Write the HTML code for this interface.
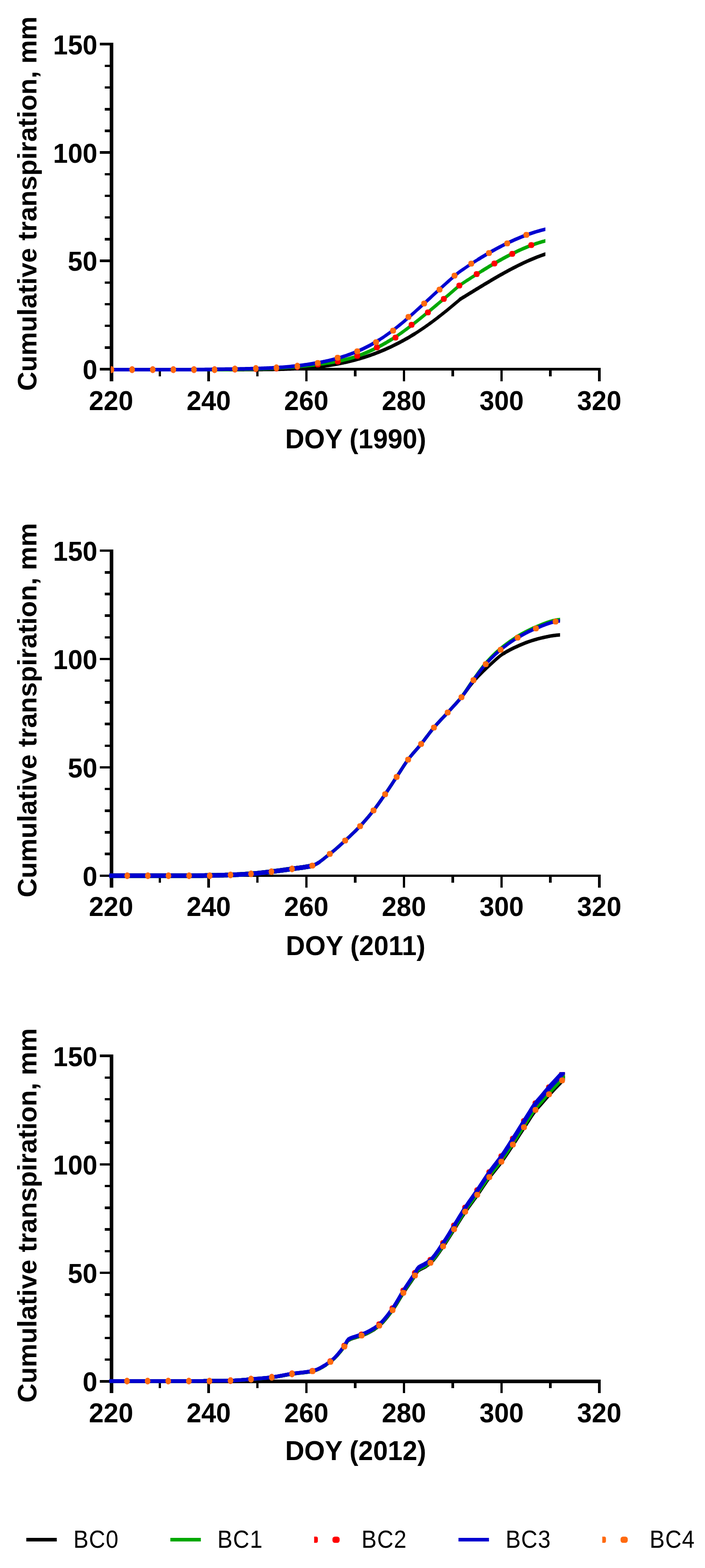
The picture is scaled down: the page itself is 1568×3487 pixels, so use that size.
<!DOCTYPE html>
<html lang="en">
<head>
<meta charset="utf-8">
<title>Cumulative transpiration</title>
<style>
html,body{margin:0;padding:0;background:#fff;}
body{width:1568px;height:3487px;overflow:hidden;}
svg{display:block;}
.b{font-family:"Liberation Sans",Arial,sans-serif;font-weight:bold;fill:#000;}
.n{font-family:"Liberation Sans",Arial,sans-serif;font-weight:normal;fill:#000;}
.ax{fill:#000;shape-rendering:crispEdges;}
.ln{fill:none;stroke-linejoin:round;stroke-linecap:round;}
</style>
</head>
<body>
<svg width="1568" height="3487" viewBox="0 0 1568 3487">
<rect x="0" y="0" width="1568" height="3487" fill="#fff"/>
<g id="chart1">
<rect class="ax" x="244" y="95.45" width="8" height="752.55"/>
<rect class="ax" x="244" y="818.2" width="1091.5" height="5.5"/>
<rect class="ax" x="222" y="818.25" width="24" height="5.5"/>
<rect class="ax" x="233" y="770.06" width="13" height="5.5"/>
<rect class="ax" x="233" y="721.88" width="13" height="5.5"/>
<rect class="ax" x="233" y="673.69" width="13" height="5.5"/>
<rect class="ax" x="233" y="625.5" width="13" height="5.5"/>
<rect class="ax" x="222" y="577.32" width="24" height="5.5"/>
<rect class="ax" x="233" y="529.13" width="13" height="5.5"/>
<rect class="ax" x="233" y="480.94" width="13" height="5.5"/>
<rect class="ax" x="233" y="432.75" width="13" height="5.5"/>
<rect class="ax" x="233" y="384.57" width="13" height="5.5"/>
<rect class="ax" x="222" y="336.38" width="24" height="5.5"/>
<rect class="ax" x="233" y="288.19" width="13" height="5.5"/>
<rect class="ax" x="233" y="240.01" width="13" height="5.5"/>
<rect class="ax" x="233" y="191.82" width="13" height="5.5"/>
<rect class="ax" x="233" y="143.63" width="13" height="5.5"/>
<rect class="ax" x="222" y="95.45" width="24" height="5.5"/>
<rect class="ax" x="352.82" y="820" width="5.5" height="17"/>
<rect class="ax" x="461.4" y="820" width="5.5" height="28"/>
<rect class="ax" x="569.98" y="820" width="5.5" height="17"/>
<rect class="ax" x="678.55" y="820" width="5.5" height="28"/>
<rect class="ax" x="787.12" y="820" width="5.5" height="17"/>
<rect class="ax" x="895.7" y="820" width="5.5" height="28"/>
<rect class="ax" x="1004.27" y="820" width="5.5" height="17"/>
<rect class="ax" x="1112.85" y="820" width="5.5" height="28"/>
<rect class="ax" x="1221.42" y="820" width="5.5" height="17"/>
<rect class="ax" x="1330" y="820" width="5.5" height="28"/>
<clipPath id="cp0"><rect x="246.6" y="0" width="966.4" height="900"/></clipPath>
<g clip-path="url(#cp0)">
<path class="ln" d="M247,822 L250,822 L253,822 L256,822 L259,822 L262,822 L265,822 L268,822 L271,822 L274,822 L277,822 L280,822 L283,822 L286,822 L289,822 L292,822 L295,822 L298,822 L301,822 L304,822 L307,822 L310,822 L313,822 L316,822 L319,822 L322,822 L325,822 L328,822 L331,822 L334,822 L337,822 L340,822 L343,822 L346,822 L349,822 L352,822 L355,822 L358,822 L361,822 L364,822 L367,822 L370,822 L373,822 L376,822 L379,822 L382,822 L385,822 L388,822 L391,822 L394,822 L397,822 L400,822 L403,822 L406,822 L409,822 L412,822 L415,822 L418,822 L421,822 L424,822 L427,822 L430,822 L433,822 L436,822 L439,822 L442,822 L445,822 L448,822 L451,822 L454,822 L457,822 L460,822 L463,822 L466,822 L469,822 L472,822 L475,822 L478,822 L481,822 L484,822 L487,822 L490,822 L493,822 L496,822 L499,822 L502,821.99 L505,821.98 L508,821.97 L511,821.96 L514,821.95 L517,821.93 L520,821.92 L523,821.9 L526,821.89 L529,821.87 L532,821.85 L535,821.83 L538,821.81 L541,821.79 L544,821.77 L547,821.75 L550,821.72 L553,821.7 L556,821.67 L559,821.64 L562,821.63 L565,821.62 L568,821.61 L571,821.6 L574,821.59 L577,821.57 L580,821.56 L583,821.54 L586,821.52 L589,821.5 L592,821.48 L595,821.45 L598,821.42 L601,821.39 L604,821.35 L607,821.31 L610,821.27 L613,821.22 L616,821.16 L619,821.1 L622,821.04 L625,820.96 L628,820.89 L631,820.81 L634,820.72 L637,820.62 L640,820.52 L643,820.41 L646,820.29 L649,820.16 L652,820.03 L655,819.89 L658,819.74 L661,819.58 L664,819.41 L667,819.23 L670,819.04 L673,818.84 L676,818.63 L679,818.41 L682,818.18 L685,817.94 L688,817.69 L691,817.43 L694,817.15 L697,816.86 L700,816.56 L703,816.25" stroke="#000000" stroke-width="8.2"/>
<path class="ln" d="M700,816.56 L703,816.25 L706,815.92 L709,815.58 L712,815.23 L715,814.86 L718,814.48 L721,814.09 L724,813.68 L727,813.25 L730,812.81 L733,812.36 L736,811.89 L739,811.4 L742,810.9 L745,810.38 L748,809.84 L751,809.29 L754,808.72 L757,808.13 L760,807.52 L763,806.9 L766,806.25 L769,805.59 L772,804.91 L775,804.21 L778,803.49 L781,802.75 L784,801.99 L787,801.21 L790,800.41 L793,799.59 L796,798.75 L799,797.89 L802,797.01 L805,796.1 L808,795.18 L811,794.23 L814,793.26 L817,792.27 L820,791.26 L823,790.22 L826,789.17 L829,788.09 L832,786.98 L835,785.86 L838,784.71 L841,783.54 L844,782.34 L847,781.12 L850,779.88 L853,778.61 L856,777.32 L859,776.01 L862,774.67 L865,773.31 L868,771.92 L871,770.5 L874,769.07 L877,767.6 L880,766.11 L883,764.6 L886,763.06 L889,761.49 L892,759.9 L895,758.28 L898,756.64 L901,754.96 L904,753.27 L907,751.54 L910,749.79 L913,748.01 L916,746.2 L919,744.37 L922,742.5" stroke="#000000" stroke-width="7.8"/>
<path class="ln" d="M919,744.37 L922,742.5 L925,740.61 L928,738.7 L931,736.75 L934,734.77 L937,732.77 L940,730.74 L943,728.69 L946,726.6 L949,724.5 L952,722.36 L955,720.21 L958,718.02 L961,715.82 L964,713.59 L967,711.34 L970,709.07 L973,706.78 L976,704.47 L979,702.13 L982,699.78 L985,697.41 L988,695.02 L991,692.61 L994,690.19 L997,687.75 L1000,685.29 L1003,682.81 L1006,680.32 L1009,677.82 L1012,675.3 L1015,672.77 L1018,670.23 L1021,667.67 L1024,665.1 L1027.02,663.26" stroke="#000000" stroke-width="7.2"/>
<path class="ln" d="M1024,665.1 L1027.02,663.26 L1030.03,661.42 L1033.05,659.58 L1036.06,657.73 L1039.08,655.88 L1042.09,654.03 L1045.11,652.18 L1048.12,650.33 L1051.14,648.49 L1054.15,646.64 L1057.17,644.79 L1060.18,642.95 L1063.2,641.1 L1066.22,639.27 L1069.23,637.43 L1072.25,635.6 L1075.26,633.78 L1078.28,631.96 L1081.29,630.14 L1084.31,628.34 L1087.32,626.54 L1090.34,624.75 L1093.35,622.96 L1096.37,621.19 L1099.38,619.42 L1102.4,617.67 L1105.42,615.92 L1108.43,614.19 L1111.45,612.47 L1114.46,610.76 L1117.48,609.06 L1120.49,607.37 L1123.51,605.7 L1126.52,604.05 L1129.54,602.41 L1132.55,600.78 L1135.57,599.17 L1138.58,597.58 L1141.6,596 L1144.62,594.44 L1147.63,592.91 L1150.65,591.38 L1153.66,589.88 L1156.68,588.4 L1159.69,586.94 L1162.71,585.5 L1165.72,584.08 L1168.74,582.68 L1171.75,581.31 L1174.77,579.96 L1177.78,578.63 L1180.8,577.33 L1183.82,576.05 L1186.83,574.8 L1189.85,573.58 L1192.86,572.38 L1195.88,571.2 L1198.89,570.06 L1201.91,568.94 L1204.92,567.86 L1207.94,566.8 L1210.95,565.77 L1213.97,564.77 L1216.98,563.81 L1220,562.87" stroke="#000000" stroke-width="7.8"/>
<path class="ln" d="M247,822 L250,822 L253.01,822 L256.01,822 L259.02,822 L262.02,822 L265.02,822 L268.03,822 L271.03,822 L274.03,822 L277.04,822 L280.04,822 L283.05,822 L286.05,822 L289.05,822 L292.06,822 L295.06,822 L298.07,822 L301.07,822 L304.07,822 L307.08,822 L310.08,822 L313.09,822 L316.09,822 L319.09,822 L322.1,822 L325.1,822 L328.1,822 L331.11,822 L334.11,822 L337.12,822 L340.12,822 L343.12,822 L346.13,822 L349.13,822 L352.14,822 L355.14,822 L358.14,822 L361.15,822 L364.15,822 L367.16,822 L370.16,822 L373.16,822 L376.17,822 L379.17,822 L382.17,822 L385.18,822 L388.18,822 L391.19,822 L394.19,822 L397.19,822 L400.2,822 L403.2,822 L406.21,822 L409.21,822 L412.21,822 L415.22,822 L418.22,822 L421.22,822 L424.23,822 L427.23,822 L430.24,822 L433.24,822 L436.24,822 L439.25,822 L442.25,822 L445.26,822 L448.26,822 L451.26,822 L454.27,822 L457.27,822 L460.28,822 L463.28,822 L466.28,822 L469.29,822 L472.29,821.99 L475.29,821.99 L478.3,821.98 L481.3,821.98 L484.31,821.97 L487.31,821.95 L490.31,821.94 L493.32,821.92 L496.32,821.89 L499.33,821.87 L502.33,821.84 L505.33,821.81 L508.34,821.78 L511.34,821.75 L514.34,821.71 L517.35,821.67 L520.35,821.63 L523.36,821.59 L526.36,821.54 L529.36,821.49 L532.37,821.44 L535.37,821.38 L538.38,821.32 L541.38,821.25 L544.38,821.19 L547.39,821.12 L550.39,821.04 L553.4,820.96 L556.4,820.88 L559.4,820.79 L562.41,820.7 L565.41,820.61 L568.41,820.51 L571.42,820.41 L574.42,820.3 L577.43,820.19 L580.43,820.08 L583.43,819.96 L586.44,819.83 L589.44,819.71 L592.45,819.57 L595.45,819.43 L598.45,819.29 L601.46,819.14 L604.46,818.99 L607.47,818.83 L610.47,818.67 L613.47,818.5 L616.48,818.33 L619.48,818.15 L622.48,817.97 L625.49,817.78 L628.49,817.58 L631.5,817.38 L634.5,817.17 L637.5,816.96 L640.51,816.74 L643.51,816.52 L646.52,816.29 L649.52,816.05 L652.52,815.81 L655.53,815.56 L658.53,815.31 L661.53,815.05 L664.54,814.78 L667.54,814.51 L670.55,814.22 L673.55,813.94 L676.55,813.64 L679.56,813.34 L682.56,813.04 L685.57,812.72 L688.57,812.4 L691.57,812.07 L694.58,811.73 L697.58,811.39 L700.59,811.04" stroke="#00a800" stroke-width="8.2"/>
<path class="ln" d="M697.58,811.39 L700.59,811.04 L703.59,810.68 L706.59,810.32 L709.6,809.94 L712.6,809.56 L715.6,809.17 L718.61,808.77 L721.61,808.36 L724.62,807.93 L727.62,807.49 L730.62,807.04 L733.63,806.57 L736.63,806.08 L739.64,805.58 L742.64,805.05 L745.64,804.51 L748.65,803.95 L751.65,803.36 L754.66,802.75 L757.66,802.12 L760.66,801.46 L763.67,800.78 L766.67,800.06 L769.67,799.32 L772.68,798.55 L775.68,797.76 L778.69,796.92 L781.69,796.06 L784.69,795.16 L787.7,794.23 L790.7,793.27 L793.71,792.26 L796.71,791.22 L799.71,790.15 L802.72,789.03 L805.72,787.88 L808.72,786.69 L811.73,785.47 L814.73,784.22 L817.74,782.92 L820.74,781.6 L823.74,780.24 L826.75,778.85 L829.75,777.43 L832.76,775.97 L835.76,774.49 L838.76,772.97 L841.77,771.43 L844.77,769.85 L847.78,768.25 L850.78,766.61 L853.78,764.94 L856.79,763.24 L859.79,761.5 L862.79,759.73 L865.8,757.93 L868.8,756.1 L871.81,754.23" stroke="#00a800" stroke-width="7.8"/>
<path class="ln" d="M868.8,756.1 L871.81,754.23 L874.81,752.33 L877.81,750.39 L880.82,748.42 L883.82,746.41 L886.83,744.37 L889.83,742.29 L892.83,740.19 L895.84,738.05 L898.84,735.89 L901.84,733.69 L904.85,731.48 L907.85,729.23 L910.86,726.96 L913.86,724.67 L916.86,722.36 L919.87,720.03 L922.87,717.67 L925.88,715.3 L928.88,712.92 L931.88,710.51 L934.89,708.1 L937.89,705.67 L940.9,703.23 L943.9,700.77 L946.9,698.31 L949.91,695.84 L952.91,693.36 L955.91,690.88 L958.92,688.39 L961.92,685.89 L964.93,683.39 L967.93,680.88 L970.93,678.37 L973.94,675.85 L976.94,673.32 L979.95,670.78 L982.95,668.24 L985.95,665.69 L988.96,663.14 L991.96,660.58 L994.97,658.01 L997.97,655.44 L1000.97,652.86 L1003.98,650.27 L1006.98,647.67 L1009.98,645.07 L1012.99,642.46 L1015.99,639.85 L1019,637.23 L1022,634.6 L1025,632.64 L1028,630.69 L1031,628.73 L1034,626.78 L1037,624.83 L1040,622.89 L1043,620.95 L1046,619.01 L1049,617.08 L1052,615.15 L1055,613.23 L1058,611.32 L1061,609.42 L1064,607.52 L1067,605.63 L1070,603.75 L1073,601.88 L1076,600.02" stroke="#00a800" stroke-width="7.2"/>
<path class="ln" d="M1073,601.88 L1076,600.02 L1079,598.18 L1082,596.34 L1085,594.52 L1088,592.7 L1091,590.9 L1094,589.12 L1097,587.35 L1100,585.59 L1103,583.85 L1106,582.13 L1109,580.42 L1112,578.73 L1115,577.05 L1118,575.4 L1121,573.76 L1124,572.14 L1127,570.54 L1130,568.97 L1133,567.41 L1136,565.88 L1139,564.36 L1142,562.87 L1145,561.41 L1148,559.96 L1151,558.55 L1154,557.15 L1157,555.78 L1160,554.44 L1163,553.13 L1166,551.84 L1169,550.58 L1172,549.35 L1175,548.14 L1178,546.97 L1181,545.83 L1184,544.72 L1187,543.63 L1190,542.58 L1193,541.57 L1196,540.58 L1199,539.63 L1202,538.71 L1205,537.83 L1208,536.98 L1211,536.17 L1214,535.39 L1217,534.66 L1220,533.95" stroke="#00a800" stroke-width="7.8"/>
<g fill="#ff0000"><ellipse cx="248" cy="822" rx="6.3" ry="7.5"/><ellipse cx="293.85" cy="822" rx="6.3" ry="7.5"/><ellipse cx="339.7" cy="822" rx="6.3" ry="7.5"/><ellipse cx="385.55" cy="822" rx="6.3" ry="7.5"/><ellipse cx="431.4" cy="822" rx="6.3" ry="7.5"/><ellipse cx="477.25" cy="822" rx="6.3" ry="7.5"/><ellipse cx="522.5" cy="821" rx="6.3" ry="7.5"/><ellipse cx="569" cy="820" rx="6.3" ry="7.5"/><ellipse cx="614.8" cy="818.7" rx="6.3" ry="7.5"/><ellipse cx="661.3" cy="815.5" rx="6.3" ry="7.5"/><rect x="700.4" y="804.1" width="13" height="13" rx="5.2"/><rect x="744.8" y="797.4" width="13" height="13" rx="5.2"/><rect x="788" y="784.8" width="13" height="13" rx="5.2"/><rect x="831.7" y="766.1" width="13" height="13" rx="5.2"/><rect x="873.1" y="744.2" width="13" height="13" rx="5.2"/><rect x="908.9" y="715.8" width="13" height="13" rx="5.2"/><rect x="945.2" y="688.2" width="13" height="13" rx="5.2"/><rect x="980.6" y="658.3" width="13" height="13" rx="5.2"/><rect x="1015.1" y="628.6" width="13" height="13" rx="5.2"/><rect x="1053.7" y="603" width="13" height="13" rx="5.2"/><rect x="1093.1" y="579.6" width="13" height="13" rx="5.2"/><rect x="1132.8" y="558" width="13" height="13" rx="5.2"/><rect x="1175.1" y="538.6" width="13" height="13" rx="5.2"/></g>
<path class="ln" d="M247,822 L250,822 L252.99,822 L255.99,822 L258.98,822 L261.98,822 L264.98,822 L267.97,822 L270.97,822 L273.97,822 L276.96,822 L279.96,822 L282.95,822 L285.95,822 L288.95,822 L291.94,822 L294.94,822 L297.93,822 L300.93,822 L303.93,822 L306.92,822 L309.92,822 L312.91,822 L315.91,822 L318.91,822 L321.9,822 L324.9,822 L327.9,822 L330.89,822 L333.89,822 L336.88,822 L339.88,822 L342.88,822 L345.87,822 L348.87,822 L351.86,822 L354.86,822 L357.86,822 L360.85,822 L363.85,822 L366.84,822 L369.84,822 L372.84,822 L375.83,822 L378.83,822 L381.83,822 L384.82,822 L387.82,822 L390.81,822 L393.81,822 L396.81,822 L399.8,822 L402.8,822 L405.79,822 L408.79,822 L411.79,822 L414.78,822 L417.78,822 L420.78,822 L423.77,821.99 L426.77,821.97 L429.76,821.96 L432.76,821.94 L435.76,821.92 L438.75,821.9 L441.75,821.87 L444.74,821.84 L447.74,821.81 L450.74,821.78 L453.73,821.74 L456.73,821.7 L459.72,821.65 L462.72,821.61 L465.72,821.55 L468.71,821.5 L471.71,821.44 L474.71,821.37 L477.7,821.31 L480.7,821.24 L483.69,821.21 L486.69,821.17 L489.69,821.13 L492.68,821.09 L495.68,821.05 L498.67,821.01 L501.67,820.97 L504.67,820.93 L507.66,820.88 L510.66,820.84 L513.66,820.79 L516.65,820.75 L519.65,820.7 L522.64,820.65 L525.64,820.6 L528.64,820.55 L531.63,820.5 L534.63,820.45 L537.62,820.4 L540.62,820.34 L543.62,820.28 L546.61,820.22 L549.61,820.16 L552.6,820.09 L555.6,820.02 L558.6,819.95 L561.59,819.87 L564.59,819.79 L567.59,819.7 L570.58,819.61 L573.58,819.52 L576.57,819.42 L579.57,819.31 L582.57,819.2 L585.56,819.09 L588.56,818.96 L591.55,818.84 L594.55,818.7 L597.55,818.56 L600.54,818.41 L603.54,818.26 L606.53,818.1 L609.53,817.93 L612.53,817.75 L615.52,817.56 L618.52,817.37 L621.52,817.17 L624.51,816.96 L627.51,816.74 L630.5,816.51 L633.5,816.27 L636.5,816.02 L639.49,815.76 L642.49,815.5 L645.48,815.22 L648.48,814.93 L651.48,814.63 L654.47,814.31 L657.47,813.99 L660.47,813.66 L663.46,813.31 L666.46,812.95 L669.45,812.58 L672.45,812.2 L675.45,811.8 L678.44,811.39 L681.44,810.97 L684.43,810.53 L687.43,810.09 L690.43,809.62 L693.42,809.14 L696.42,808.65 L699.41,808.14 L702.41,807.62" stroke="#0000d0" stroke-width="8.2"/>
<path class="ln" d="M699.41,808.14 L702.41,807.62 L705.41,807.08 L708.4,806.53 L711.4,805.96 L714.4,805.38 L717.39,804.78 L720.39,804.16 L723.38,803.52 L726.38,802.86 L729.38,802.18 L732.37,801.49 L735.37,800.77 L738.36,800.03 L741.36,799.27 L744.36,798.49 L747.35,797.68 L750.35,796.85 L753.34,796 L756.34,795.12 L759.34,794.21 L762.33,793.28 L765.33,792.32 L768.33,791.33 L771.32,790.32 L774.32,789.28 L777.31,788.21 L780.31,787.1 L783.31,785.97 L786.3,784.81 L789.3,783.61 L792.29,782.39 L795.29,781.13 L798.29,779.83 L801.28,778.5 L804.28,777.14 L807.28,775.74 L810.27,774.31 L813.27,772.84 L816.26,771.33 L819.26,769.78 L822.26,768.2 L825.25,766.58 L828.25,764.91 L831.24,763.21 L834.24,761.47 L837.24,759.68 L840.23,757.85 L843.23,755.99" stroke="#0000d0" stroke-width="7.8"/>
<path class="ln" d="M840.23,757.85 L843.23,755.99 L846.22,754.08 L849.22,752.13 L852.22,750.14 L855.21,748.11 L858.21,746.04 L861.21,743.93 L864.2,741.79 L867.2,739.61 L870.19,737.39 L873.19,735.14 L876.19,732.84 L879.18,730.52 L882.18,728.16 L885.17,725.77 L888.17,723.34 L891.17,720.89 L894.16,718.41 L897.16,715.91 L900.16,713.38 L903.15,710.82 L906.15,708.24 L909.14,705.65 L912.14,703.03 L915.14,700.39 L918.13,697.74 L921.13,695.07 L924.12,692.39 L927.12,689.69 L930.12,686.98 L933.11,684.26 L936.11,681.53 L939.1,678.79 L942.1,676.04 L945.1,673.29 L948.09,670.53 L951.09,667.77 L954.09,665 L957.08,662.24 L960.08,659.47 L963.07,656.71 L966.07,653.95 L969.07,651.19 L972.06,648.43 L975.06,645.69 L978.05,642.94 L981.05,640.21 L984.05,637.49 L987.04,634.78 L990.04,632.08 L993.03,629.39 L996.03,626.72 L999.03,624.06 L1002.02,621.42 L1005.02,618.8 L1008.02,616.19 L1011.01,613.61 L1014.01,611.05 L1017,608.51 L1020,606 L1022.99,603.9 L1025.97,601.81 L1028.96,599.74 L1031.94,597.69 L1034.93,595.65 L1037.91,593.62 L1040.9,591.61 L1043.88,589.62 L1046.87,587.64 L1049.85,585.68 L1052.84,583.74 L1055.82,581.81 L1058.81,579.9 L1061.79,578.01 L1064.78,576.13 L1067.76,574.28" stroke="#0000d0" stroke-width="7.2"/>
<path class="ln" d="M1064.78,576.13 L1067.76,574.28 L1070.75,572.44 L1073.73,570.62 L1076.72,568.81 L1079.7,567.03 L1082.69,565.26 L1085.67,563.52 L1088.66,561.79 L1091.64,560.08 L1094.63,558.4 L1097.61,556.73 L1100.6,555.08 L1103.58,553.45 L1106.57,551.85 L1109.55,550.26 L1112.54,548.69 L1115.52,547.15 L1118.51,545.63 L1121.49,544.13 L1124.48,542.65 L1127.46,541.19 L1130.45,539.75 L1133.43,538.34 L1136.42,536.95 L1139.4,535.59 L1142.39,534.24 L1145.37,532.92 L1148.36,531.62 L1151.34,530.35 L1154.33,529.1 L1157.31,527.88 L1160.3,526.68 L1163.28,525.5 L1166.27,524.35 L1169.25,523.22 L1172.24,522.12 L1175.22,521.05 L1178.21,520 L1181.19,518.97 L1184.18,517.98 L1187.16,517 L1190.15,516.06 L1193.13,515.14 L1196.12,514.25 L1199.1,513.39 L1202.09,512.55 L1205.07,511.74 L1208.06,510.96 L1211.04,510.21 L1214.03,509.48 L1217.01,508.79 L1220,508.12" stroke="#0000d0" stroke-width="7.8"/>
<g fill="#ff6a10"><ellipse cx="248" cy="822" rx="6.3" ry="7.5"/><ellipse cx="293.85" cy="822" rx="6.3" ry="7.5"/><ellipse cx="339.7" cy="822" rx="6.3" ry="7.5"/><ellipse cx="385.55" cy="822" rx="6.3" ry="7.5"/><ellipse cx="431.4" cy="822" rx="6.3" ry="7.5"/><ellipse cx="477.25" cy="822" rx="6.3" ry="7.5"/><ellipse cx="522.5" cy="820.5" rx="6.3" ry="7.5"/><ellipse cx="569" cy="819.2" rx="6.3" ry="7.5"/><ellipse cx="614.8" cy="817.7" rx="6.3" ry="7.5"/><ellipse cx="661.3" cy="814.1" rx="6.3" ry="7.5"/><rect x="700.3" y="800.7" width="13" height="13" rx="5.2"/><rect x="744.4" y="789.1" width="13" height="13" rx="5.2"/><rect x="788.1" y="774.7" width="13" height="13" rx="5.2"/><rect x="829.9" y="754.5" width="13" height="13" rx="5.2"/><rect x="867.8" y="728.7" width="13" height="13" rx="5.2"/><rect x="902" y="698.2" width="13" height="13" rx="5.2"/><rect x="936.9" y="668.4" width="13" height="13" rx="5.2"/><rect x="971.1" y="637.6" width="13" height="13" rx="5.2"/><rect x="1004.4" y="606.5" width="13" height="13" rx="5.2"/><rect x="1041.6" y="579.7" width="13" height="13" rx="5.2"/><rect x="1081" y="556.3" width="13" height="13" rx="5.2"/><rect x="1121.6" y="534.7" width="13" height="13" rx="5.2"/><rect x="1164.2" y="515.7" width="13" height="13" rx="5.2"/></g>
</g>
<text class="b" transform="translate(216.5,843.4) scale(1,1.04)" font-size="59" text-anchor="end">0</text>
<text class="b" transform="translate(216.5,602.47) scale(1,1.04)" font-size="59" text-anchor="end">50</text>
<text class="b" transform="translate(216.5,361.53) scale(1,1.04)" font-size="59" text-anchor="end">100</text>
<text class="b" transform="translate(216.5,120.6) scale(1,1.04)" font-size="59" text-anchor="end">150</text>
<text class="b" transform="translate(247,912.2) scale(1,1.04)" font-size="59" text-anchor="middle">220</text>
<text class="b" transform="translate(464.15,912.2) scale(1,1.04)" font-size="59" text-anchor="middle">240</text>
<text class="b" transform="translate(681.3,912.2) scale(1,1.04)" font-size="59" text-anchor="middle">260</text>
<text class="b" transform="translate(898.45,912.2) scale(1,1.04)" font-size="59" text-anchor="middle">280</text>
<text class="b" transform="translate(1115.6,912.2) scale(1,1.04)" font-size="59" text-anchor="middle">300</text>
<text class="b" transform="translate(1332.75,912.2) scale(1,1.04)" font-size="59" text-anchor="middle">320</text>
<text class="b" transform="translate(791,997.4) scale(1,1.03)" font-size="59" text-anchor="middle">DOY (1990)</text>
<text class="b" transform="translate(81.3,453) rotate(-90)" font-size="59" text-anchor="middle">Cumulative transpiration, mm</text>
</g>
<g id="chart2">
<rect class="ax" x="244" y="1221.85" width="8" height="752.55"/>
<rect class="ax" x="244" y="1944.6" width="1091.5" height="5.5"/>
<rect class="ax" x="222" y="1944.65" width="24" height="5.5"/>
<rect class="ax" x="233" y="1896.46" width="13" height="5.5"/>
<rect class="ax" x="233" y="1848.28" width="13" height="5.5"/>
<rect class="ax" x="233" y="1800.09" width="13" height="5.5"/>
<rect class="ax" x="233" y="1751.9" width="13" height="5.5"/>
<rect class="ax" x="222" y="1703.72" width="24" height="5.5"/>
<rect class="ax" x="233" y="1655.53" width="13" height="5.5"/>
<rect class="ax" x="233" y="1607.34" width="13" height="5.5"/>
<rect class="ax" x="233" y="1559.15" width="13" height="5.5"/>
<rect class="ax" x="233" y="1510.97" width="13" height="5.5"/>
<rect class="ax" x="222" y="1462.78" width="24" height="5.5"/>
<rect class="ax" x="233" y="1414.59" width="13" height="5.5"/>
<rect class="ax" x="233" y="1366.41" width="13" height="5.5"/>
<rect class="ax" x="233" y="1318.22" width="13" height="5.5"/>
<rect class="ax" x="233" y="1270.03" width="13" height="5.5"/>
<rect class="ax" x="222" y="1221.85" width="24" height="5.5"/>
<rect class="ax" x="352.82" y="1946.4" width="5.5" height="17"/>
<rect class="ax" x="461.4" y="1946.4" width="5.5" height="28"/>
<rect class="ax" x="569.98" y="1946.4" width="5.5" height="17"/>
<rect class="ax" x="678.55" y="1946.4" width="5.5" height="28"/>
<rect class="ax" x="787.12" y="1946.4" width="5.5" height="17"/>
<rect class="ax" x="895.7" y="1946.4" width="5.5" height="28"/>
<rect class="ax" x="1004.27" y="1946.4" width="5.5" height="17"/>
<rect class="ax" x="1112.85" y="1946.4" width="5.5" height="28"/>
<rect class="ax" x="1221.42" y="1946.4" width="5.5" height="17"/>
<rect class="ax" x="1330" y="1946.4" width="5.5" height="28"/>
<clipPath id="cp1"><rect x="243" y="1126.4" width="1002.6" height="900"/></clipPath>
<g clip-path="url(#cp1)">
<path class="ln" d="M244,1947.4 L247,1947.4 L250,1947.4 L253,1947.4 L256,1947.4 L259,1947.4 L262,1947.4 L265,1947.4 L268,1947.4 L271,1947.4 L274,1947.4 L277,1947.4 L280,1947.4 L283,1947.4 L286,1947.4 L289,1947.4 L292,1947.4 L295,1947.4 L298,1947.4 L301,1947.4 L304,1947.4 L307,1947.4 L310,1947.4 L313,1947.4 L316,1947.4 L319,1947.4 L322,1947.4 L325,1947.4 L328,1947.4 L331,1947.4 L334,1947.4 L337,1947.4 L340,1947.4 L343,1947.4 L346,1947.4 L349,1947.4 L352,1947.4 L355,1947.4 L358,1947.4 L361,1947.4 L364,1947.4 L367,1947.4 L370,1947.4 L373,1947.4 L376,1947.4 L379,1947.4 L382,1947.4 L385,1947.4 L388,1947.4 L391,1947.4 L394,1947.4 L397,1947.4 L400,1947.4 L403,1947.4 L406,1947.4 L409,1947.4 L412,1947.4 L415,1947.4 L418,1947.4 L421,1947.4 L424,1947.4 L427,1947.4 L430,1947.4 L433,1947.39 L436,1947.38 L439,1947.35 L442,1947.32 L445,1947.28 L448,1947.23 L451,1947.18 L454,1947.12 L457,1947.06 L460,1947 L463,1946.94 L466,1946.88 L469,1946.82 L472,1946.76 L475,1946.7 L478,1946.64 L481,1946.58 L484,1946.51 L487,1946.44 L490,1946.37 L493,1946.29 L496,1946.21 L499,1946.13 L502,1946.04 L505,1945.95 L508,1945.86 L511,1945.76 L514,1945.65 L517,1945.54 L520,1945.42 L523,1945.29 L526,1945.15 L529,1945.01 L532,1944.85 L535,1944.69 L538,1944.52 L541,1944.35 L544,1944.16 L547,1943.97 L550,1943.78 L553,1943.57 L556,1943.36 L559,1943.15 L562,1942.92 L565,1942.67 L568,1942.4 L571,1942.11 L574,1941.81 L577,1941.5 L580,1941.17 L583,1940.84 L586,1940.5 L589,1940.15 L592,1939.8 L595,1939.44 L598,1939.08 L601,1938.72 L604,1938.36 L607,1938 L610,1937.63 L613,1937.26 L616,1936.87 L619,1936.48 L622,1936.08 L625,1935.68 L628,1935.27 L631,1934.85 L634,1934.43 L637,1934.01 L640,1933.58 L643,1933.15 L646,1932.71 L649,1932.27 L652,1931.84 L655,1931.44 L658,1931.05 L661,1930.67 L664,1930.3 L667,1929.92 L670,1929.53 L673,1929.12 L676,1928.68 L679,1928.22 L682,1927.71 L685,1927.16 L688,1926.56 L691,1925.89 L694,1925.16 L697,1924.27" stroke="#000000" stroke-width="10.4"/>
<path class="ln" d="M694,1925.16 L697,1924.27 L700,1923.08 L703,1921.61 L706,1919.91 L709,1918" stroke="#000000" stroke-width="7.8"/>
<path class="ln" d="M706,1919.91 L709,1918 L712,1915.92 L715,1913.69 L718,1911.37 L721,1908.98 L724,1906.55 L727,1904.11 L730,1901.71 L733,1899.38 L736,1897.08 L739,1894.69 L742,1892.23 L745,1889.7 L748,1887.11 L751,1884.47 L754,1881.79 L757,1879.08 L760,1876.35 L763,1873.61 L766,1870.86 L769,1868.11 L772,1865.36 L775,1862.59 L778,1859.8 L781,1856.98 L784,1854.13 L787,1851.25 L790,1848.32 L793,1845.34 L796,1842.3 L799,1839.2 L802,1836.03 L805,1832.8 L808,1829.5 L811,1826.13 L814,1822.7 L817,1819.21 L820,1815.65 L823,1812.03 L826,1808.34 L829,1804.58 L832,1800.76 L835,1796.82 L838,1792.76 L841,1788.61 L844,1784.39 L847,1780.1 L850,1775.77 L853,1771.43 L856,1767.07 L859,1762.7 L862,1758.26 L865,1753.78 L868,1749.25 L871,1744.7 L874,1740.14 L877,1735.58 L880,1731.02 L883,1726.49 L886,1721.89 L889,1717.22 L892,1712.52 L895,1707.84 L898,1703.21 L901,1698.7 L904,1694.32 L907,1690.14 L910,1686.18 L913,1682.39 L916,1678.74 L919,1675.19 L922,1671.71 L925,1668.27 L928,1664.82 L931,1661.33 L934,1657.77 L937,1654.1 L940,1650.32 L943,1646.44 L946,1642.5 L949,1638.54 L952,1634.58 L955,1630.64 L958,1626.77 L961,1622.98 L964,1619.31 L967,1615.78 L970,1612.35 L973,1609 L976,1605.73 L979,1602.5 L982,1599.3 L985,1596.11 L988,1592.92 L991,1589.71 L994,1586.46 L997,1583.17 L1000,1579.89 L1003,1576.64 L1006,1573.39 L1009,1570.13 L1012,1566.85 L1015,1563.54 L1018,1560.18 L1021,1556.76 L1024,1553.26 L1027,1549.67 L1030,1545.91 L1033,1541.98 L1036,1537.94 L1039,1533.84 L1042,1529.74 L1045,1525.7 L1048,1521.77 L1051,1518.01 L1054,1514.46 L1057,1511.08 L1060,1507.82 L1063,1504.65 L1066,1501.56 L1069,1498.51 L1072,1495.49 L1075,1492.53 L1078,1489.61 L1081,1486.75 L1084,1483.93 L1087,1481.16 L1090,1478.4 L1093,1475.61 L1096,1472.82 L1099,1470.06 L1102,1467.34 L1105,1464.69 L1108,1462.14 L1111,1459.71 L1114,1457.43 L1117,1455.31 L1120,1453.34 L1123,1451.48" stroke="#000000" stroke-width="7.2"/>
<path class="ln" d="M1120,1453.34 L1123,1451.48 L1126,1449.71 L1129,1448.02 L1132,1446.39 L1135,1444.8 L1138,1443.26 L1141,1441.77 L1144,1440.33 L1147,1438.94 L1150,1437.58 L1153,1436.24 L1156,1434.92 L1159,1433.62 L1162,1432.34 L1165,1431.09 L1168,1429.89 L1171,1428.74 L1174,1427.64 L1177,1426.59 L1180,1425.58 L1183,1424.6 L1186,1423.66 L1189,1422.76 L1192,1421.9 L1195,1421.08 L1198,1420.29 L1201,1419.53 L1204,1418.8 L1207,1418.09 L1210,1417.42 L1213,1416.76 L1216,1416.11 L1219,1415.46 L1222,1414.85 L1225,1414.29 L1228,1413.79 L1231,1413.37 L1234,1413.01 L1237,1412.68 L1240,1412.39 L1243,1412.11 L1246,1411.82 L1249,1411.55 L1252,1411.3" stroke="#000000" stroke-width="7.8"/>
<path class="ln" d="M244,1947.4 L247,1947.4 L250,1947.4 L253,1947.4 L256,1947.4 L259,1947.4 L262,1947.4 L265,1947.4 L268,1947.4 L271,1947.4 L274,1947.4 L277,1947.4 L280,1947.4 L283,1947.4 L286,1947.4 L289,1947.4 L292,1947.4 L295,1947.4 L298,1947.4 L301,1947.4 L304,1947.4 L307,1947.4 L310,1947.4 L313,1947.4 L316,1947.4 L319,1947.4 L322,1947.4 L325,1947.4 L328,1947.4 L331,1947.4 L334,1947.4 L337,1947.4 L340,1947.4 L343,1947.4 L346,1947.4 L349,1947.4 L352,1947.4 L355,1947.4 L358,1947.4 L361,1947.4 L364,1947.4 L367,1947.4 L370,1947.4 L373,1947.4 L376,1947.4 L379,1947.4 L382,1947.4 L385,1947.4 L388,1947.4 L391,1947.4 L394,1947.4 L397,1947.4 L400,1947.4 L403,1947.4 L406,1947.4 L409,1947.4 L412,1947.4 L415,1947.4 L418,1947.4 L421,1947.4 L424,1947.4 L427,1947.4 L430,1947.4 L433,1947.39 L436,1947.38 L439,1947.35 L442,1947.32 L445,1947.28 L448,1947.23 L451,1947.18 L454,1947.12 L457,1947.06 L460,1947 L463,1946.94 L466,1946.88 L469,1946.82 L472,1946.76 L475,1946.7 L478,1946.64 L481,1946.58 L484,1946.51 L487,1946.44 L490,1946.37 L493,1946.29 L496,1946.21 L499,1946.13 L502,1946.04 L505,1945.95 L508,1945.86 L511,1945.76 L514,1945.65 L517,1945.54 L520,1945.42 L523,1945.29 L526,1945.15 L529,1945.01 L532,1944.85 L535,1944.69 L538,1944.52 L541,1944.35 L544,1944.16 L547,1943.97 L550,1943.78 L553,1943.57 L556,1943.36 L559,1943.15 L562,1942.92 L565,1942.67 L568,1942.4 L571,1942.11 L574,1941.81 L577,1941.5 L580,1941.17 L583,1940.84 L586,1940.5 L589,1940.15 L592,1939.8 L595,1939.44 L598,1939.08 L601,1938.72 L604,1938.36 L607,1938 L610,1937.63 L613,1937.26 L616,1936.87 L619,1936.48 L622,1936.08 L625,1935.68 L628,1935.27 L631,1934.85 L634,1934.43 L637,1934.01 L640,1933.58 L643,1933.15 L646,1932.71 L649,1932.27 L652,1931.84 L655,1931.44 L658,1931.05 L661,1930.67 L664,1930.3 L667,1929.92 L670,1929.53 L673,1929.12 L676,1928.68 L679,1928.22 L682,1927.71 L685,1927.16 L688,1926.56 L691,1925.89 L694,1925.16 L697,1924.27" stroke="#00a800" stroke-width="10.4"/>
<path class="ln" d="M694,1925.16 L697,1924.27 L700,1923.08 L703,1921.61 L706,1919.91 L709,1918" stroke="#00a800" stroke-width="7.8"/>
<path class="ln" d="M706,1919.91 L709,1918 L712,1915.92 L715,1913.69 L718,1911.37 L721,1908.98 L724,1906.55 L727,1904.11 L730,1901.71 L733,1899.38 L736,1897.08 L739,1894.69 L742,1892.23 L745,1889.7 L748,1887.11 L751,1884.47 L754,1881.79 L757,1879.08 L760,1876.35 L763,1873.61 L766,1870.86 L769,1868.11 L772,1865.36 L775,1862.59 L778,1859.8 L781,1856.98 L784,1854.13 L787,1851.25 L790,1848.32 L793,1845.34 L796,1842.3 L799,1839.2 L802,1836.03 L805,1832.8 L808,1829.5 L811,1826.13 L814,1822.7 L817,1819.21 L820,1815.65 L823,1812.03 L826,1808.34 L829,1804.58 L832,1800.76 L835,1796.82 L838,1792.76 L841,1788.61 L844,1784.39 L847,1780.1 L850,1775.77 L853,1771.43 L856,1767.07 L859,1762.7 L862,1758.26 L865,1753.78 L868,1749.25 L871,1744.7 L874,1740.14 L877,1735.58 L880,1731.02 L883,1726.49 L886,1721.89 L889,1717.22 L892,1712.52 L895,1707.84 L898,1703.21 L901,1698.7 L904,1694.32 L907,1690.14 L910,1686.18 L913,1682.39 L916,1678.74 L919,1675.19 L922,1671.71 L925,1668.27 L928,1664.82 L931,1661.33 L934,1657.77 L937,1654.1 L940,1650.32 L943,1646.44 L946,1642.5 L949,1638.54 L952,1634.58 L955,1630.64 L958,1626.77 L961,1622.98 L964,1619.31 L967,1615.78 L970,1612.35 L973,1609 L976,1605.73 L979,1602.5 L982,1599.3 L985,1596.11 L988,1592.92 L991,1589.71 L994,1586.46 L997,1583.17 L1000,1579.92 L1003,1576.64 L1006,1573.38 L1009,1570.1 L1012,1566.8 L1015,1563.44 L1018,1560.01 L1021,1556.49 L1024,1552.84 L1027,1549.05 L1030,1545.05 L1033,1540.82 L1036,1536.46 L1039,1531.98 L1042,1527.45 L1045,1522.92 L1048,1518.45 L1051,1514.09 L1054,1509.87 L1057,1505.69 L1060,1501.48 L1063,1497.3 L1066,1493.16 L1069,1489.1 L1072,1485.13 L1075,1481.3 L1078,1477.61 L1081,1474.12 L1084,1470.75 L1087,1467.45 L1090,1464.24 L1093,1461.1 L1096,1458.05 L1099,1455.06 L1102,1452.22 L1105,1449.49 L1108,1446.83 L1111,1444.25 L1114,1441.74 L1117,1439.29 L1120,1436.9 L1123,1434.55 L1126,1432.26 L1129,1430.03 L1132,1427.85 L1135,1425.72 L1138,1423.65 L1141,1421.62 L1144,1419.66 L1147,1417.75 L1150,1415.91" stroke="#00a800" stroke-width="7.2"/>
<path class="ln" d="M1147,1417.75 L1150,1415.91 L1153,1414.12 L1156,1412.36 L1159,1410.64 L1162,1408.96 L1165,1407.32 L1168,1405.71 L1171,1404.14 L1174,1402.61 L1177,1401.12 L1180,1399.67 L1183,1398.28 L1186,1396.92 L1189,1395.6 L1192,1394.33 L1195,1393.08 L1198,1391.83 L1201,1390.58 L1204,1389.35 L1207,1388.13 L1210,1386.95 L1213,1385.81 L1216,1384.7 L1219,1383.65 L1222,1382.66 L1225,1381.73 L1228,1380.88 L1231,1380.11 L1234,1379.43 L1237,1378.86 L1240,1378.4 L1243,1378 L1246,1377.56 L1249,1377.12 L1252,1376.68" stroke="#00a800" stroke-width="7.8"/>
<path class="ln" d="M244,1947.4 L247,1947.4 L250,1947.4 L253,1947.4 L256,1947.4 L259,1947.4 L262,1947.4 L265,1947.4 L268,1947.4 L271,1947.4 L274,1947.4 L277,1947.4 L280,1947.4 L283,1947.4 L286,1947.4 L289,1947.4 L292,1947.4 L295,1947.4 L298,1947.4 L301,1947.4 L304,1947.4 L307,1947.4 L310,1947.4 L313,1947.4 L316,1947.4 L319,1947.4 L322,1947.4 L325,1947.4 L328,1947.4 L331,1947.4 L334,1947.4 L337,1947.4 L340,1947.4 L343,1947.4 L346,1947.4 L349,1947.4 L352,1947.4 L355,1947.4 L358,1947.4 L361,1947.4 L364,1947.4 L367,1947.4 L370,1947.4 L373,1947.4 L376,1947.4 L379,1947.4 L382,1947.4 L385,1947.4 L388,1947.4 L391,1947.4 L394,1947.4 L397,1947.4 L400,1947.4 L403,1947.4 L406,1947.4 L409,1947.4 L412,1947.4 L415,1947.4 L418,1947.4 L421,1947.4 L424,1947.4 L427,1947.4 L430,1947.4 L433,1947.39 L436,1947.38 L439,1947.35 L442,1947.32 L445,1947.28 L448,1947.23 L451,1947.18 L454,1947.12 L457,1947.06 L460,1947 L463,1946.94 L466,1946.88 L469,1946.82 L472,1946.76 L475,1946.7 L478,1946.64 L481,1946.58 L484,1946.51 L487,1946.44 L490,1946.37 L493,1946.29 L496,1946.21 L499,1946.13 L502,1946.04 L505,1945.95 L508,1945.86 L511,1945.76 L514,1945.65 L517,1945.54 L520,1945.42 L523,1945.29 L526,1945.15 L529,1945.01 L532,1944.85 L535,1944.69 L538,1944.52 L541,1944.35 L544,1944.16 L547,1943.97 L550,1943.78 L553,1943.57 L556,1943.36 L559,1943.15 L562,1942.92 L565,1942.67 L568,1942.4 L571,1942.11 L574,1941.81 L577,1941.5 L580,1941.17 L583,1940.84 L586,1940.5 L589,1940.15 L592,1939.8 L595,1939.44 L598,1939.08 L601,1938.72 L604,1938.36 L607,1938 L610,1937.63 L613,1937.26 L616,1936.87 L619,1936.48 L622,1936.08 L625,1935.68 L628,1935.27 L631,1934.85 L634,1934.43 L637,1934.01 L640,1933.58 L643,1933.15 L646,1932.71 L649,1932.27 L652,1931.84 L655,1931.44 L658,1931.05 L661,1930.67 L664,1930.3 L667,1929.92 L670,1929.53 L673,1929.12 L676,1928.68 L679,1928.22 L682,1927.71 L685,1927.16 L688,1926.56 L691,1925.89 L694,1925.16 L697,1924.27" stroke="#0000d0" stroke-width="10.4"/>
<path class="ln" d="M694,1925.16 L697,1924.27 L700,1923.08 L703,1921.61 L706,1919.91 L709,1918" stroke="#0000d0" stroke-width="7.8"/>
<path class="ln" d="M706,1919.91 L709,1918 L712,1915.92 L715,1913.69 L718,1911.37 L721,1908.98 L724,1906.55 L727,1904.11 L730,1901.71 L733,1899.38 L736,1897.08 L739,1894.69 L742,1892.23 L745,1889.7 L748,1887.11 L751,1884.47 L754,1881.79 L757,1879.08 L760,1876.35 L763,1873.61 L766,1870.86 L769,1868.11 L772,1865.36 L775,1862.59 L778,1859.8 L781,1856.98 L784,1854.13 L787,1851.25 L790,1848.32 L793,1845.34 L796,1842.3 L799,1839.2 L802,1836.03 L805,1832.8 L808,1829.5 L811,1826.13 L814,1822.7 L817,1819.21 L820,1815.65 L823,1812.03 L826,1808.34 L829,1804.58 L832,1800.76 L835,1796.82 L838,1792.76 L841,1788.61 L844,1784.39 L847,1780.1 L850,1775.77 L853,1771.43 L856,1767.07 L859,1762.7 L862,1758.26 L865,1753.78 L868,1749.25 L871,1744.7 L874,1740.14 L877,1735.58 L880,1731.02 L883,1726.49 L886,1721.89 L889,1717.22 L892,1712.52 L895,1707.84 L898,1703.21 L901,1698.7 L904,1694.32 L907,1690.14 L910,1686.18 L913,1682.39 L916,1678.74 L919,1675.19 L922,1671.71 L925,1668.27 L928,1664.82 L931,1661.33 L934,1657.77 L937,1654.1 L940,1650.32 L943,1646.44 L946,1642.5 L949,1638.54 L952,1634.58 L955,1630.64 L958,1626.77 L961,1622.98 L964,1619.31 L967,1615.78 L970,1612.35 L973,1609 L976,1605.73 L979,1602.5 L982,1599.3 L985,1596.11 L988,1592.92 L991,1589.71 L994,1586.46 L997,1583.17 L1000,1579.92 L1003,1576.7 L1006,1573.5 L1009,1570.29 L1012,1567.05 L1015,1563.76 L1018,1560.39 L1021,1556.94 L1024,1553.36 L1027,1549.64 L1030,1545.71 L1033,1541.56 L1036,1537.27 L1039,1532.87 L1042,1528.42 L1045,1523.97 L1048,1519.58 L1051,1515.3 L1054,1511.17 L1057,1507.07 L1060,1502.95 L1063,1498.85 L1066,1494.8 L1069,1490.83 L1072,1486.95 L1075,1483.21 L1078,1479.62 L1081,1476.22 L1084,1472.94 L1087,1469.74 L1090,1466.62 L1093,1463.57 L1096,1460.62 L1099,1457.73 L1102,1454.93 L1105,1452.21 L1108,1449.57 L1111,1447 L1114,1444.51 L1117,1442.07 L1120,1439.69 L1123,1437.36 L1126,1435.08 L1129,1432.86 L1132,1430.69 L1135,1428.57 L1138,1426.51 L1141,1424.5 L1144,1422.55 L1147,1420.65 L1150,1418.82" stroke="#0000d0" stroke-width="7.2"/>
<path class="ln" d="M1147,1420.65 L1150,1418.82 L1153,1417.04 L1156,1415.29 L1159,1413.58 L1162,1411.91 L1165,1410.27 L1168,1408.67 L1171,1407.11 L1174,1405.59 L1177,1404.11 L1180,1402.67 L1183,1401.28 L1186,1399.93 L1189,1398.62 L1192,1397.36 L1195,1396.11 L1198,1394.87 L1201,1393.63 L1204,1392.4 L1207,1391.19 L1210,1390.02 L1213,1388.88 L1216,1387.78 L1219,1386.73 L1222,1385.75 L1225,1384.82 L1228,1383.98 L1231,1383.21 L1234,1382.54 L1237,1381.97 L1240,1381.51 L1243,1381.11 L1246,1380.68 L1249,1380.24 L1252,1379.8" stroke="#0000d0" stroke-width="7.8"/>
<g fill="#ff6a10"><ellipse cx="283" cy="1947.4" rx="6.3" ry="7.5"/><ellipse cx="328.85" cy="1947.4" rx="6.3" ry="7.5"/><ellipse cx="374.7" cy="1947.4" rx="6.3" ry="7.5"/><ellipse cx="420.55" cy="1947.4" rx="6.3" ry="7.5"/><ellipse cx="466.4" cy="1947.4" rx="6.3" ry="7.5"/><ellipse cx="512.7" cy="1945.7" rx="6.3" ry="7.5"/><ellipse cx="558.3" cy="1943.2" rx="6.3" ry="7.5"/><ellipse cx="603.7" cy="1938.4" rx="6.3" ry="7.5"/><ellipse cx="649.5" cy="1932.2" rx="6.3" ry="7.5"/><rect x="688.1" y="1918.5" width="13" height="13" rx="5.2"/><rect x="727" y="1892.5" width="13" height="13" rx="5.2"/><rect x="761.2" y="1862.8" width="13" height="13" rx="5.2"/><rect x="794.4" y="1830.7" width="13" height="13" rx="5.2"/><rect x="824.3" y="1795.8" width="13" height="13" rx="5.2"/><rect x="850.1" y="1759.7" width="13" height="13" rx="5.2"/><rect x="875.7" y="1721.2" width="13" height="13" rx="5.2"/><rect x="901.2" y="1682.7" width="13" height="13" rx="5.2"/><rect x="930.1" y="1648.1" width="13" height="13" rx="5.2"/><rect x="958.6" y="1611.5" width="13" height="13" rx="5.2"/><rect x="989.2" y="1578.1" width="13" height="13" rx="5.2"/><rect x="1019.9" y="1543.9" width="13" height="13" rx="5.2"/><rect x="1046.6" y="1505.9" width="13" height="13" rx="5.2"/><rect x="1073.8" y="1470.5" width="13" height="13" rx="5.2"/><rect x="1106.9" y="1438.5" width="13" height="13" rx="5.2"/><rect x="1144.7" y="1411.6" width="13" height="13" rx="5.2"/><rect x="1185.4" y="1390.9" width="13" height="13" rx="5.2"/><rect x="1229.2" y="1375.7" width="13" height="13" rx="5.2"/></g>
</g>
<text class="b" transform="translate(216.5,1969.8) scale(1,1.04)" font-size="59" text-anchor="end">0</text>
<text class="b" transform="translate(216.5,1728.87) scale(1,1.04)" font-size="59" text-anchor="end">50</text>
<text class="b" transform="translate(216.5,1487.93) scale(1,1.04)" font-size="59" text-anchor="end">100</text>
<text class="b" transform="translate(216.5,1247) scale(1,1.04)" font-size="59" text-anchor="end">150</text>
<text class="b" transform="translate(247,2036.8) scale(1,1.04)" font-size="59" text-anchor="middle">220</text>
<text class="b" transform="translate(464.15,2036.8) scale(1,1.04)" font-size="59" text-anchor="middle">240</text>
<text class="b" transform="translate(681.3,2036.8) scale(1,1.04)" font-size="59" text-anchor="middle">260</text>
<text class="b" transform="translate(898.45,2036.8) scale(1,1.04)" font-size="59" text-anchor="middle">280</text>
<text class="b" transform="translate(1115.6,2036.8) scale(1,1.04)" font-size="59" text-anchor="middle">300</text>
<text class="b" transform="translate(1332.75,2036.8) scale(1,1.04)" font-size="59" text-anchor="middle">320</text>
<text class="b" transform="translate(791,2123.8) scale(1,1.03)" font-size="59" text-anchor="middle">DOY (2011)</text>
<text class="b" transform="translate(81.3,1579.4) rotate(-90)" font-size="59" text-anchor="middle">Cumulative transpiration, mm</text>
</g>
<g id="chart3">
<rect class="ax" x="244" y="2345.45" width="8" height="752.55"/>
<rect class="ax" x="244" y="3068" width="1091.5" height="7.7"/>
<rect class="ax" x="222" y="3069.15" width="24" height="5.5"/>
<rect class="ax" x="233" y="3020.9" width="13" height="5.5"/>
<rect class="ax" x="233" y="2972.66" width="13" height="5.5"/>
<rect class="ax" x="233" y="2924.41" width="13" height="5.5"/>
<rect class="ax" x="233" y="2876.16" width="13" height="5.5"/>
<rect class="ax" x="222" y="2827.91" width="24" height="5.5"/>
<rect class="ax" x="233" y="2779.67" width="13" height="5.5"/>
<rect class="ax" x="233" y="2731.42" width="13" height="5.5"/>
<rect class="ax" x="233" y="2683.17" width="13" height="5.5"/>
<rect class="ax" x="233" y="2634.93" width="13" height="5.5"/>
<rect class="ax" x="222" y="2586.68" width="24" height="5.5"/>
<rect class="ax" x="233" y="2538.43" width="13" height="5.5"/>
<rect class="ax" x="233" y="2490.19" width="13" height="5.5"/>
<rect class="ax" x="233" y="2441.94" width="13" height="5.5"/>
<rect class="ax" x="233" y="2393.69" width="13" height="5.5"/>
<rect class="ax" x="222" y="2345.45" width="24" height="5.5"/>
<rect class="ax" x="352.82" y="3069.8" width="5.5" height="17"/>
<rect class="ax" x="461.4" y="3069.8" width="5.5" height="28"/>
<rect class="ax" x="569.98" y="3069.8" width="5.5" height="17"/>
<rect class="ax" x="678.55" y="3069.8" width="5.5" height="28"/>
<rect class="ax" x="787.12" y="3069.8" width="5.5" height="17"/>
<rect class="ax" x="895.7" y="3069.8" width="5.5" height="28"/>
<rect class="ax" x="1004.27" y="3069.8" width="5.5" height="17"/>
<rect class="ax" x="1112.85" y="3069.8" width="5.5" height="28"/>
<rect class="ax" x="1221.42" y="3069.8" width="5.5" height="17"/>
<rect class="ax" x="1330" y="3069.8" width="5.5" height="28"/>
<clipPath id="cp2"><rect x="243" y="2384.3" width="1013.5" height="765.5"/></clipPath>
<g clip-path="url(#cp2)">
<path class="ln" d="M244,3071.3 L247,3071.3 L250.01,3071.3 L253.01,3071.3 L256.01,3071.3 L259.01,3071.3 L262.02,3071.3 L265.02,3071.3 L268.02,3071.3 L271.03,3071.3 L274.03,3071.3 L277.03,3071.3 L280.04,3071.3 L283.04,3071.3 L286.04,3071.3 L289.04,3071.3 L292.05,3071.3 L295.05,3071.3 L298.05,3071.3 L301.06,3071.3 L304.06,3071.3 L307.06,3071.3 L310.06,3071.3 L313.07,3071.3 L316.07,3071.3 L319.07,3071.3 L322.08,3071.3 L325.08,3071.3 L328.08,3071.3 L331.09,3071.3 L334.09,3071.3 L337.09,3071.3 L340.09,3071.3 L343.1,3071.3 L346.1,3071.3 L349.1,3071.3 L352.11,3071.3 L355.11,3071.3 L358.11,3071.3 L361.12,3071.3 L364.12,3071.3 L367.12,3071.3 L370.12,3071.3 L373.13,3071.3 L376.13,3071.3 L379.13,3071.3 L382.14,3071.3 L385.14,3071.3 L388.14,3071.3 L391.14,3071.3 L394.15,3071.3 L397.15,3071.3 L400.15,3071.3 L403.16,3071.3 L406.16,3071.3 L409.16,3071.3 L412.17,3071.3 L415.17,3071.3 L418.17,3071.3 L421.17,3071.3 L424.18,3071.3 L427.18,3071.3 L430.18,3071.3 L433.19,3071.29 L436.19,3071.27 L439.19,3071.24 L442.19,3071.2 L445.2,3071.15 L448.2,3071.09 L451.2,3071.03 L454.21,3070.97 L457.21,3070.91 L460.21,3070.85 L463.22,3070.8 L466.22,3070.75 L469.22,3070.71 L472.22,3070.68 L475.23,3070.65 L478.23,3070.62 L481.23,3070.6 L484.24,3070.57 L487.24,3070.55 L490.24,3070.53 L493.24,3070.51 L496.25,3070.49 L499.25,3070.46 L502.25,3070.44 L505.26,3070.4 L508.26,3070.37 L511.26,3070.32 L514.27,3070.27 L517.27,3070.18 L520.27,3070.06 L523.27,3069.91 L526.28,3069.73 L529.28,3069.53 L532.28,3069.31 L535.29,3069.08 L538.29,3068.83 L541.29,3068.57 L544.29,3068.31 L547.3,3068.04 L550.3,3067.78 L553.3,3067.52 L556.31,3067.27 L559.31,3067.03 L562.31,3066.8 L565.32,3066.56 L568.32,3066.33 L571.32,3066.1 L574.32,3065.86 L577.33,3065.63 L580.33,3065.38 L583.33,3065.12 L586.34,3064.86 L589.34,3064.59 L592.34,3064.3 L595.35,3064 L598.35,3063.69 L601.35,3063.37 L604.35,3063.03 L607.36,3062.65 L610.36,3062.24 L613.36,3061.78 L616.37,3061.29 L619.37,3060.76 L622.37,3060.22 L625.37,3059.66 L628.38,3059.11 L631.38,3058.53 L634.38,3057.96 L637.39,3057.4 L640.39,3056.86 L643.39,3056.33 L646.4,3055.84 L649.4,3055.37 L652.4,3054.93 L655.4,3054.54 L658.41,3054.18 L661.41,3053.84 L664.41,3053.51 L667.42,3053.19 L670.42,3052.87 L673.42,3052.55 L676.42,3052.21 L679.43,3051.84 L682.43,3051.45 L685.43,3051.01 L688.44,3050.52 L691.44,3049.98 L694.44,3049.38 L697.45,3048.68" stroke="#000000" stroke-width="8.2"/>
<path class="ln" d="M694.44,3049.38 L697.45,3048.68 L700.45,3047.79 L703.45,3046.73 L706.45,3045.53 L709.46,3044.17 L712.46,3042.68 L715.46,3041.07 L718.47,3039.34 L721.47,3037.52 L724.47,3035.62" stroke="#000000" stroke-width="7.8"/>
<path class="ln" d="M721.47,3037.52 L724.47,3035.62 L727.47,3033.62 L730.48,3031.57 L733.48,3029.46 L736.48,3027.28 L739.49,3024.85 L742.49,3022.16 L745.49,3019.24 L748.5,3016.09 L751.5,3012.76 L754.5,3009.27 L757.5,3005.61 L760.51,3001.82 L763.51,2997.91 L766.51,2993.85 L769.52,2988.47 L772.52,2983.22 L775.52,2980.43 L778.53,2978.77" stroke="#000000" stroke-width="7.2"/>
<path class="ln" d="M775.52,2980.43 L778.53,2978.77 L781.53,2977.45 L784.53,2976.39 L787.53,2975.47 L790.54,2974.56 L793.54,2973.58 L796.54,2972.69 L799.55,2971.85 L802.55,2970.96 L805.55,2969.91 L808.55,2968.75 L811.56,2967.49 L814.56,2966.14 L817.56,2964.71 L820.57,2963.2 L823.57,2961.62 L826.57,2959.95 L829.58,2958.2 L832.58,2956.33" stroke="#000000" stroke-width="7.8"/>
<path class="ln" d="M829.58,2958.2 L832.58,2956.33 L835.58,2954.34 L838.58,2952.21 L841.59,2949.92 L844.59,2947.44 L847.59,2944.7 L850.6,2941.7 L853.6,2938.47 L856.6,2935.02 L859.6,2931.41 L862.61,2927.64 L865.61,2923.75 L868.61,2919.78 L871.62,2915.75 L874.62,2911.62 L877.62,2907.18 L880.63,2902.48 L883.63,2897.58 L886.63,2892.58 L889.63,2887.55 L892.64,2882.59 L895.64,2877.76 L898.64,2873.13 L901.65,2868.65 L904.65,2864.24 L907.65,2859.89 L910.65,2855.55 L913.66,2851.2 L916.66,2846.78 L919.66,2842.29 L922.67,2837.67 L925.67,2832.35 L928.67,2827.43 L931.68,2824.78 L934.68,2822.89" stroke="#000000" stroke-width="7.2"/>
<path class="ln" d="M931.68,2824.78 L934.68,2822.89 L937.68,2821.39 L940.68,2820.01 L943.69,2818.51 L946.69,2816.68" stroke="#000000" stroke-width="7.8"/>
<path class="ln" d="M943.69,2818.51 L946.69,2816.68 L949.69,2814.76 L952.7,2812.72 L955.7,2810.42 L958.7,2807.79 L961.71,2804.74 L964.71,2801.31 L967.71,2797.57 L970.71,2793.58 L973.72,2789.41 L976.72,2785.11 L979.72,2780.74 L982.73,2776.38 L985.73,2772.07 L988.73,2767.71 L991.73,2763.19 L994.74,2758.55 L997.74,2753.82 L1000.74,2749.05 L1003.75,2744.25 L1006.75,2739.48 L1009.75,2734.74 L1012.76,2730.03 L1015.76,2725.25 L1018.76,2720.44 L1021.76,2715.65 L1024.77,2710.87 L1027.77,2706.15 L1030.77,2701.5 L1033.78,2696.95 L1036.78,2692.54 L1039.78,2688.22 L1042.78,2684 L1045.79,2679.84 L1048.79,2675.72 L1051.79,2671.6 L1054.8,2667.47 L1057.8,2663.32 L1060.8,2659.09 L1063.81,2654.78 L1066.81,2650.4 L1069.81,2645.97 L1072.81,2641.52 L1075.82,2637.07 L1078.82,2632.64 L1081.82,2628.27 L1084.83,2623.98 L1087.83,2619.81 L1090.83,2615.76 L1093.83,2611.84 L1096.84,2608.03 L1099.84,2604.27 L1102.84,2600.53 L1105.85,2596.77 L1108.85,2592.96 L1111.85,2589.04 L1114.86,2585 L1117.86,2580.81 L1120.86,2576.53 L1123.86,2572.15 L1126.87,2567.7 L1129.87,2563.21 L1132.87,2558.67 L1135.88,2554.1 L1138.88,2549.54 L1141.88,2544.98 L1144.88,2540.38 L1147.89,2535.73 L1150.89,2531.05 L1153.89,2526.36 L1156.9,2521.65 L1159.9,2516.96 L1162.9,2512.27 L1165.91,2507.6 L1168.91,2502.96 L1171.91,2498.32 L1174.91,2493.69 L1177.92,2489.08 L1180.92,2484.42 L1183.92,2479.82 L1186.93,2475.49 L1189.93,2471.46 L1192.93,2467.74 L1195.94,2464.24 L1198.94,2460.86 L1201.94,2457.52 L1204.94,2454.12 L1207.95,2450.65 L1210.95,2447.15 L1213.95,2443.65 L1216.96,2440.19 L1219.96,2436.79 L1222.96,2433.46 L1225.96,2430.2 L1228.97,2426.98 L1231.97,2423.8 L1234.97,2420.64 L1237.98,2417.5 L1240.98,2414.37 L1243.98,2411.23 L1246.99,2408.09 L1249.99,2404.93 L1252.99,2401.76 L1255.99,2398.58 L1259,2395.41 L1262,2392.24" stroke="#000000" stroke-width="7.2"/>
<path class="ln" d="M244,3071.3 L247,3071.3 L250.01,3071.3 L253.01,3071.3 L256.01,3071.3 L259.01,3071.3 L262.02,3071.3 L265.02,3071.3 L268.02,3071.3 L271.03,3071.3 L274.03,3071.3 L277.03,3071.3 L280.04,3071.3 L283.04,3071.3 L286.04,3071.3 L289.04,3071.3 L292.05,3071.3 L295.05,3071.3 L298.05,3071.3 L301.06,3071.3 L304.06,3071.3 L307.06,3071.3 L310.06,3071.3 L313.07,3071.3 L316.07,3071.3 L319.07,3071.3 L322.08,3071.3 L325.08,3071.3 L328.08,3071.3 L331.09,3071.3 L334.09,3071.3 L337.09,3071.3 L340.09,3071.3 L343.1,3071.3 L346.1,3071.3 L349.1,3071.3 L352.11,3071.3 L355.11,3071.3 L358.11,3071.3 L361.12,3071.3 L364.12,3071.3 L367.12,3071.3 L370.12,3071.3 L373.13,3071.3 L376.13,3071.3 L379.13,3071.3 L382.14,3071.3 L385.14,3071.3 L388.14,3071.3 L391.14,3071.3 L394.15,3071.3 L397.15,3071.3 L400.15,3071.3 L403.16,3071.3 L406.16,3071.3 L409.16,3071.3 L412.17,3071.3 L415.17,3071.3 L418.17,3071.3 L421.17,3071.3 L424.18,3071.3 L427.18,3071.3 L430.18,3071.3 L433.19,3071.29 L436.19,3071.27 L439.19,3071.24 L442.19,3071.2 L445.2,3071.15 L448.2,3071.09 L451.2,3071.03 L454.21,3070.97 L457.21,3070.91 L460.21,3070.85 L463.22,3070.8 L466.22,3070.75 L469.22,3070.71 L472.22,3070.68 L475.23,3070.65 L478.23,3070.62 L481.23,3070.6 L484.24,3070.57 L487.24,3070.55 L490.24,3070.53 L493.24,3070.51 L496.25,3070.49 L499.25,3070.46 L502.25,3070.44 L505.26,3070.4 L508.26,3070.37 L511.26,3070.32 L514.27,3070.27 L517.27,3070.18 L520.27,3070.06 L523.27,3069.91 L526.28,3069.73 L529.28,3069.52 L532.28,3069.3 L535.29,3069.06 L538.29,3068.81 L541.29,3068.55 L544.29,3068.29 L547.3,3068.02 L550.3,3067.76 L553.3,3067.5 L556.31,3067.25 L559.31,3067 L562.31,3066.77 L565.32,3066.53 L568.32,3066.3 L571.32,3066.07 L574.32,3065.83 L577.33,3065.59 L580.33,3065.34 L583.33,3065.08 L586.34,3064.82 L589.34,3064.55 L592.34,3064.25 L595.35,3063.95 L598.35,3063.64 L601.35,3063.32 L604.35,3062.98 L607.36,3062.6 L610.36,3062.18 L613.36,3061.71 L616.37,3061.22 L619.37,3060.69 L622.37,3060.15 L625.37,3059.59 L628.38,3059.02 L631.38,3058.44 L634.38,3057.87 L637.39,3057.31 L640.39,3056.76 L643.39,3056.23 L646.4,3055.73 L649.4,3055.26 L652.4,3054.82 L655.4,3054.42 L658.41,3054.06 L661.41,3053.72 L664.41,3053.39 L667.42,3053.07 L670.42,3052.75 L673.42,3052.43 L676.42,3052.08 L679.43,3051.7 L682.43,3051.31 L685.43,3050.87 L688.44,3050.38 L691.44,3049.84 L694.44,3049.23 L697.45,3048.52" stroke="#00a800" stroke-width="8.2"/>
<path class="ln" d="M694.44,3049.23 L697.45,3048.52 L700.45,3047.63 L703.45,3046.56 L706.45,3045.35 L709.46,3043.98 L712.46,3042.49 L715.46,3040.86 L718.47,3039.12 L721.47,3037.29" stroke="#00a800" stroke-width="7.8"/>
<path class="ln" d="M718.47,3039.12 L721.47,3037.29 L724.47,3035.37 L727.47,3033.36 L730.48,3031.29 L733.48,3029.17 L736.48,3026.98 L739.49,3024.53 L742.49,3021.81 L745.49,3018.87 L748.5,3015.71 L751.5,3012.36 L754.5,3008.83 L757.5,3005.15 L760.51,3001.33 L763.51,2997.4 L766.51,2993.31 L769.52,2987.89 L772.52,2982.61 L775.52,2979.8 L778.53,2978.12" stroke="#00a800" stroke-width="7.2"/>
<path class="ln" d="M775.52,2979.8 L778.53,2978.12 L781.53,2976.8 L784.53,2975.73 L787.53,2974.8 L790.54,2973.88 L793.54,2972.9 L796.54,2972 L799.55,2971.15 L802.55,2970.26 L805.55,2969.21 L808.55,2968.03 L811.56,2966.77 L814.56,2965.41 L817.56,2963.96 L820.57,2962.45 L823.57,2960.85 L826.57,2959.18 L829.58,2957.41 L832.58,2955.53" stroke="#00a800" stroke-width="7.8"/>
<path class="ln" d="M829.58,2957.41 L832.58,2955.53 L835.58,2953.52 L838.58,2951.37 L841.59,2949.08 L844.59,2946.58 L847.59,2943.81 L850.6,2940.79 L853.6,2937.54 L856.6,2934.07 L859.6,2930.43 L862.61,2926.64 L865.61,2922.72 L868.61,2918.72 L871.62,2914.66 L874.62,2910.5 L877.62,2906.03 L880.63,2901.29 L883.63,2896.37 L886.63,2891.32 L889.63,2886.26 L892.64,2881.26 L895.64,2876.41 L898.64,2871.75 L901.65,2867.23 L904.65,2862.79 L907.65,2858.41 L910.65,2854.04 L913.66,2849.66 L916.66,2845.21 L919.66,2840.68 L922.67,2836.03 L925.67,2830.67 L928.67,2825.72 L931.68,2823.05 L934.68,2821.15" stroke="#00a800" stroke-width="7.2"/>
<path class="ln" d="M931.68,2823.05 L934.68,2821.15 L937.68,2819.64 L940.68,2818.25 L943.69,2816.74 L946.69,2814.9" stroke="#00a800" stroke-width="7.8"/>
<path class="ln" d="M943.69,2816.74 L946.69,2814.9 L949.69,2812.96 L952.7,2810.9 L955.7,2808.6 L958.7,2805.94 L961.71,2802.87 L964.71,2799.42 L967.71,2795.65 L970.71,2791.64 L973.72,2787.43 L976.72,2783.1 L979.72,2778.71 L982.73,2774.31 L985.73,2769.97 L988.73,2765.58 L991.73,2761.03 L994.74,2756.36 L997.74,2751.6 L1000.74,2746.79 L1003.75,2741.96 L1006.75,2737.15 L1009.75,2732.38 L1012.76,2727.63 L1015.76,2722.82 L1018.76,2717.98 L1021.76,2713.16 L1024.77,2708.35 L1027.77,2703.59 L1030.77,2698.91 L1033.78,2694.33 L1036.78,2689.88 L1039.78,2685.54 L1042.78,2681.29 L1045.79,2677.09 L1048.79,2672.94 L1051.79,2668.8 L1054.8,2664.64 L1057.8,2660.46 L1060.8,2656.2 L1063.81,2651.86 L1066.81,2647.45 L1069.81,2642.99 L1072.81,2638.51 L1075.82,2634.02 L1078.82,2629.56 L1081.82,2625.16 L1084.83,2620.85 L1087.83,2616.64 L1090.83,2612.56 L1093.83,2608.62 L1096.84,2604.78 L1099.84,2601 L1102.84,2597.22 L1105.85,2593.44 L1108.85,2589.6 L1111.85,2585.66 L1114.86,2581.59 L1117.86,2577.37 L1120.86,2573.06 L1123.86,2568.65 L1126.87,2564.17 L1129.87,2559.64 L1132.87,2555.08 L1135.88,2550.48 L1138.88,2545.88 L1141.88,2541.29 L1144.88,2536.65 L1147.89,2531.97 L1150.89,2527.26 L1153.89,2522.54 L1156.9,2517.8 L1159.9,2513.07 L1162.9,2508.35 L1165.91,2503.65 L1168.91,2498.97 L1171.91,2494.3 L1174.91,2489.63 L1177.92,2485 L1180.92,2480.31 L1183.92,2475.67 L1186.93,2471.31 L1189.93,2467.26 L1192.93,2463.51 L1195.94,2459.98 L1198.94,2456.57 L1201.94,2453.21 L1204.94,2449.79 L1207.95,2446.29 L1210.95,2442.77 L1213.95,2439.24 L1216.96,2435.76 L1219.96,2432.34 L1222.96,2428.98 L1225.96,2425.7 L1228.97,2422.46 L1231.97,2419.25 L1234.97,2416.07 L1237.98,2412.91 L1240.98,2409.76 L1243.98,2406.6 L1246.99,2403.44 L1249.99,2400.26 L1252.99,2397.07 L1255.99,2393.86 L1259,2390.67 L1262,2387.48" stroke="#00a800" stroke-width="7.2"/>
<g fill="#ff0000"><ellipse cx="512.7" cy="3070.29" rx="6.3" ry="7.5"/><ellipse cx="558.3" cy="3067.01" rx="6.3" ry="7.5"/><ellipse cx="604.4" cy="3062.81" rx="6.3" ry="7.5"/><ellipse cx="649.5" cy="3054.92" rx="6.3" ry="7.5"/><rect x="688.5" y="3042.17" width="13" height="13" rx="5.2"/><rect x="728.3" y="3020.86" width="13" height="13" rx="5.2"/><rect x="759.4" y="2986.13" width="13" height="13" rx="5.2"/><rect x="797.7" y="2961.13" width="13" height="13" rx="5.2"/><rect x="837" y="2938.49" width="13" height="13" rx="5.2"/><rect x="866.5" y="2903.04" width="13" height="13" rx="5.2"/><rect x="890.6" y="2863.6" width="13" height="13" rx="5.2"/><rect x="916.4" y="2824.36" width="13" height="13" rx="5.2"/><rect x="950.9" y="2795.27" width="13" height="13" rx="5.2"/><rect x="979" y="2757.67" width="13" height="13" rx="5.2"/><rect x="1003.4" y="2718.74" width="13" height="13" rx="5.2"/><rect x="1028.1" y="2678.88" width="13" height="13" rx="5.2"/><rect x="1054.9" y="2640.36" width="13" height="13" rx="5.2"/><rect x="1081.8" y="2600.2" width="13" height="13" rx="5.2"/><rect x="1108.6" y="2564.75" width="13" height="13" rx="5.2"/><rect x="1134.2" y="2525.82" width="13" height="13" rx="5.2"/><rect x="1158.9" y="2486.38" width="13" height="13" rx="5.2"/><rect x="1184.5" y="2447.04" width="13" height="13" rx="5.2"/><rect x="1214.6" y="2411.49" width="13" height="13" rx="5.2"/><rect x="1243.8" y="2379.73" width="13" height="13" rx="5.2"/></g>
<path class="ln" d="M244,3071.31 L247,3071.31 L250.01,3071.31 L253.01,3071.31 L256.01,3071.31 L259.01,3071.31 L262.02,3071.31 L265.02,3071.31 L268.02,3071.31 L271.03,3071.31 L274.03,3071.31 L277.03,3071.31 L280.04,3071.31 L283.04,3071.31 L286.04,3071.31 L289.04,3071.31 L292.05,3071.31 L295.05,3071.31 L298.05,3071.31 L301.06,3071.31 L304.06,3071.31 L307.06,3071.31 L310.06,3071.31 L313.07,3071.31 L316.07,3071.31 L319.07,3071.31 L322.08,3071.31 L325.08,3071.31 L328.08,3071.31 L331.09,3071.31 L334.09,3071.31 L337.09,3071.31 L340.09,3071.31 L343.1,3071.31 L346.1,3071.31 L349.1,3071.31 L352.11,3071.31 L355.11,3071.31 L358.11,3071.31 L361.12,3071.31 L364.12,3071.31 L367.12,3071.31 L370.12,3071.31 L373.13,3071.31 L376.13,3071.31 L379.13,3071.31 L382.14,3071.31 L385.14,3071.31 L388.14,3071.31 L391.14,3071.31 L394.15,3071.31 L397.15,3071.31 L400.15,3071.31 L403.16,3071.31 L406.16,3071.31 L409.16,3071.31 L412.17,3071.31 L415.17,3071.31 L418.17,3071.31 L421.17,3071.31 L424.18,3071.31 L427.18,3071.31 L430.18,3071.31 L433.19,3071.3 L436.19,3071.28 L439.19,3071.25 L442.19,3071.21 L445.2,3071.16 L448.2,3071.1 L451.2,3071.04 L454.21,3070.97 L457.21,3070.91 L460.21,3070.85 L463.22,3070.8 L466.22,3070.75 L469.22,3070.71 L472.22,3070.68 L475.23,3070.65 L478.23,3070.62 L481.23,3070.59 L484.24,3070.56 L487.24,3070.54 L490.24,3070.52 L493.24,3070.5 L496.25,3070.48 L499.25,3070.45 L502.25,3070.43 L505.26,3070.39 L508.26,3070.36 L511.26,3070.31 L514.27,3070.26 L517.27,3070.16 L520.27,3070.04 L523.27,3069.89 L526.28,3069.7 L529.28,3069.5 L532.28,3069.27 L535.29,3069.02 L538.29,3068.77 L541.29,3068.5 L544.29,3068.23 L547.3,3067.96 L550.3,3067.69 L553.3,3067.42 L556.31,3067.16 L559.31,3066.92 L562.31,3066.68 L565.32,3066.44 L568.32,3066.2 L571.32,3065.96 L574.32,3065.72 L577.33,3065.47 L580.33,3065.21 L583.33,3064.95 L586.34,3064.68 L589.34,3064.4 L592.34,3064.1 L595.35,3063.8 L598.35,3063.48 L601.35,3063.15 L604.35,3062.8 L607.36,3062.41 L610.36,3061.98 L613.36,3061.51 L616.37,3061 L619.37,3060.46 L622.37,3059.9 L625.37,3059.33 L628.38,3058.75 L631.38,3058.16 L634.38,3057.57 L637.39,3057 L640.39,3056.44 L643.39,3055.9 L646.4,3055.38 L649.4,3054.9 L652.4,3054.45 L655.4,3054.05 L658.41,3053.68 L661.41,3053.33 L664.41,3052.99 L667.42,3052.66 L670.42,3052.33 L673.42,3052.01 L676.42,3051.65 L679.43,3051.27 L682.43,3050.87 L685.43,3050.41 L688.44,3049.91 L691.44,3049.36 L694.44,3048.74 L697.45,3048.01" stroke="#0000d0" stroke-width="8.2"/>
<path class="ln" d="M694.44,3048.74 L697.45,3048.01 L700.45,3047.1 L703.45,3046.01 L706.45,3044.77 L709.46,3043.37 L712.46,3041.84 L715.46,3040.17 L718.47,3038.4 L721.47,3036.52" stroke="#0000d0" stroke-width="7.8"/>
<path class="ln" d="M718.47,3038.4 L721.47,3036.52 L724.47,3034.56 L727.47,3032.5 L730.48,3030.39 L733.48,3028.22 L736.48,3025.97 L739.49,3023.47 L742.49,3020.69 L745.49,3017.68 L748.5,3014.45 L751.5,3011.02 L754.5,3007.41 L757.5,3003.64 L760.51,2999.74 L763.51,2995.72 L766.51,2991.54 L769.52,2985.99 L772.52,2980.59 L775.52,2977.71 L778.53,2976" stroke="#0000d0" stroke-width="7.2"/>
<path class="ln" d="M775.52,2977.71 L778.53,2976 L781.53,2974.64 L784.53,2973.55 L787.53,2972.6 L790.54,2971.66 L793.54,2970.66 L796.54,2969.73 L799.55,2968.87 L802.55,2967.96 L805.55,2966.88 L808.55,2965.68 L811.56,2964.38 L814.56,2963 L817.56,2961.52 L820.57,2959.97 L823.57,2958.33 L826.57,2956.62 L829.58,2954.81" stroke="#0000d0" stroke-width="7.8"/>
<path class="ln" d="M826.57,2956.62 L829.58,2954.81 L832.58,2952.89 L835.58,2950.84 L838.58,2948.64 L841.59,2946.29 L844.59,2943.73 L847.59,2940.91 L850.6,2937.81 L853.6,2934.49 L856.6,2930.93 L859.6,2927.22 L862.61,2923.33 L865.61,2919.33 L868.61,2915.24 L871.62,2911.08 L874.62,2906.83 L877.62,2902.26 L880.63,2897.41 L883.63,2892.37 L886.63,2887.21 L889.63,2882.04 L892.64,2876.92 L895.64,2871.95 L898.64,2867.19 L901.65,2862.57 L904.65,2858.03 L907.65,2853.55 L910.65,2849.07 L913.66,2844.59 L916.66,2840.04 L919.66,2835.41 L922.67,2830.66 L925.67,2825.17 L928.67,2820.11 L931.68,2817.38 L934.68,2815.43" stroke="#0000d0" stroke-width="7.2"/>
<path class="ln" d="M931.68,2817.38 L934.68,2815.43 L937.68,2813.89 L940.68,2812.47 L943.69,2810.92 L946.69,2809.04" stroke="#0000d0" stroke-width="7.8"/>
<path class="ln" d="M943.69,2810.92 L946.69,2809.04 L949.69,2807.06 L952.7,2804.95 L955.7,2802.59 L958.7,2799.88 L961.71,2796.73 L964.71,2793.2 L967.71,2789.35 L970.71,2785.24 L973.72,2780.94 L976.72,2776.51 L979.72,2772.01 L982.73,2767.52 L985.73,2763.08 L988.73,2758.59 L991.73,2753.93 L994.74,2749.15 L997.74,2744.29 L1000.74,2739.37 L1003.75,2734.43 L1006.75,2729.51 L1009.75,2724.63 L1012.76,2719.77 L1015.76,2714.85 L1018.76,2709.9 L1021.76,2704.96 L1024.77,2700.04 L1027.77,2695.17 L1030.77,2690.39 L1033.78,2685.71 L1036.78,2681.16 L1039.78,2676.71 L1042.78,2672.37 L1045.79,2668.07 L1048.79,2663.83 L1051.79,2659.59 L1054.8,2655.34 L1057.8,2651.05 L1060.8,2646.7 L1063.81,2642.26 L1066.81,2637.76 L1069.81,2633.19 L1072.81,2628.6 L1075.82,2624.01 L1078.82,2619.45 L1081.82,2614.96 L1084.83,2610.54 L1087.83,2606.24 L1090.83,2602.07 L1093.83,2598.03 L1096.84,2594.11 L1099.84,2590.24 L1102.84,2586.37 L1105.85,2582.5 L1108.85,2578.58 L1111.85,2574.54 L1114.86,2570.38 L1117.86,2566.07 L1120.86,2561.65 L1123.86,2557.15 L1126.87,2552.57 L1129.87,2547.93 L1132.87,2543.26 L1135.88,2538.56 L1138.88,2533.85 L1141.88,2529.16 L1144.88,2524.42 L1147.89,2519.63 L1150.89,2514.81 L1153.89,2509.98 L1156.9,2505.13 L1159.9,2500.29 L1162.9,2495.46 L1165.91,2490.66 L1168.91,2485.87 L1171.91,2481.1 L1174.91,2476.32 L1177.92,2471.58 L1180.92,2466.78 L1183.92,2462.04 L1186.93,2457.58 L1189.93,2453.43 L1192.93,2449.6 L1195.94,2445.98 L1198.94,2442.5 L1201.94,2439.06 L1204.94,2435.56 L1207.95,2431.99 L1210.95,2428.38 L1213.95,2424.78 L1216.96,2421.21 L1219.96,2417.71 L1222.96,2414.28 L1225.96,2410.92 L1228.97,2407.6 L1231.97,2404.33 L1234.97,2401.07 L1237.98,2397.84 L1240.98,2394.61 L1243.98,2391.39 L1246.99,2388.15 L1249.99,2384.9 L1252.99,2381.63 L1255.99,2378.36 L1259,2375.09 L1262,2371.82" stroke="#0000d0" stroke-width="7.2"/>
<path class="ln" d="M244,3071.31 L247,3071.31 L250.01,3071.31 L253.01,3071.31 L256.01,3071.31 L259.01,3071.31 L262.02,3071.31 L265.02,3071.31 L268.02,3071.31 L271.03,3071.31 L274.03,3071.31 L277.03,3071.31 L280.04,3071.31 L283.04,3071.31 L286.04,3071.31 L289.04,3071.31 L292.05,3071.31 L295.05,3071.31 L298.05,3071.31 L301.06,3071.31 L304.06,3071.31 L307.06,3071.31 L310.06,3071.31 L313.07,3071.31 L316.07,3071.31 L319.07,3071.31 L322.08,3071.31 L325.08,3071.31 L328.08,3071.31 L331.09,3071.31 L334.09,3071.31 L337.09,3071.31 L340.09,3071.31 L343.1,3071.31 L346.1,3071.31 L349.1,3071.31 L352.11,3071.31 L355.11,3071.31 L358.11,3071.31 L361.12,3071.31 L364.12,3071.31 L367.12,3071.31 L370.12,3071.31 L373.13,3071.31 L376.13,3071.31 L379.13,3071.31 L382.14,3071.31 L385.14,3071.31 L388.14,3071.31 L391.14,3071.31 L394.15,3071.31 L397.15,3071.31 L400.15,3071.31 L403.16,3071.31 L406.16,3071.31 L409.16,3071.31 L412.17,3071.31 L415.17,3071.31 L418.17,3071.31 L421.17,3071.31 L424.18,3071.31 L427.18,3071.31 L430.18,3071.31 L433.19,3071.3 L436.19,3071.28 L439.19,3071.25 L442.19,3071.21 L445.2,3071.16 L448.2,3071.1 L451.2,3071.03 L454.21,3070.97 L457.21,3070.91 L460.21,3070.85 L463.22,3070.8 L466.22,3070.75 L469.22,3070.71 L472.22,3070.68 L475.23,3070.65 L478.23,3070.62 L481.23,3070.6 L484.24,3070.57 L487.24,3070.55 L490.24,3070.53 L493.24,3070.5 L496.25,3070.48 L499.25,3070.45 L502.25,3070.43 L505.26,3070.39 L508.26,3070.36 L511.26,3070.31 L514.27,3070.26 L517.27,3070.17 L520.27,3070.05 L523.27,3069.89 L526.28,3069.71 L529.28,3069.51 L532.28,3069.28 L535.29,3069.04 L538.29,3068.78 L541.29,3068.52 L544.29,3068.26 L547.3,3067.98 L550.3,3067.72 L553.3,3067.45 L556.31,3067.2 L559.31,3066.95 L562.31,3066.72 L565.32,3066.47 L568.32,3066.24 L571.32,3066.01 L574.32,3065.76 L577.33,3065.52 L580.33,3065.26 L583.33,3065 L586.34,3064.73 L589.34,3064.46 L592.34,3064.16 L595.35,3063.86 L598.35,3063.54 L601.35,3063.22 L604.35,3062.87 L607.36,3062.48 L610.36,3062.06 L613.36,3061.59 L616.37,3061.09 L619.37,3060.55 L622.37,3060 L625.37,3059.43 L628.38,3058.86 L631.38,3058.27 L634.38,3057.69 L637.39,3057.12 L640.39,3056.57 L643.39,3056.03 L646.4,3055.52 L649.4,3055.04 L652.4,3054.59 L655.4,3054.2 L658.41,3053.83 L661.41,3053.48 L664.41,3053.15 L667.42,3052.82 L670.42,3052.5 L673.42,3052.17 L676.42,3051.81 L679.43,3051.44 L682.43,3051.04 L685.43,3050.59 L688.44,3050.09 L691.44,3049.54 L694.44,3048.93 L697.45,3048.21" stroke="#0000d0" stroke-width="8.2"/>
<path class="ln" d="M694.44,3048.93 L697.45,3048.21 L700.45,3047.3 L703.45,3046.23 L706.45,3044.99 L709.46,3043.61 L712.46,3042.09 L715.46,3040.44 L718.47,3038.68 L721.47,3036.82" stroke="#0000d0" stroke-width="7.8"/>
<path class="ln" d="M718.47,3038.68 L721.47,3036.82 L724.47,3034.87 L727.47,3032.84 L730.48,3030.74 L733.48,3028.59 L736.48,3026.36 L739.49,3023.88 L742.49,3021.13 L745.49,3018.15 L748.5,3014.94 L751.5,3011.54 L754.5,3007.97 L757.5,3004.23 L760.51,3000.36 L763.51,2996.37 L766.51,2992.23 L769.52,2986.73 L772.52,2981.38 L775.52,2978.53 L778.53,2976.83" stroke="#0000d0" stroke-width="7.2"/>
<path class="ln" d="M775.52,2978.53 L778.53,2976.83 L781.53,2975.48 L784.53,2974.41 L787.53,2973.46 L790.54,2972.53 L793.54,2971.53 L796.54,2970.62 L799.55,2969.76 L802.55,2968.86 L805.55,2967.79 L808.55,2966.6 L811.56,2965.31 L814.56,2963.94 L817.56,2962.47 L820.57,2960.94 L823.57,2959.32 L826.57,2957.62 L829.58,2955.83 L832.58,2953.92" stroke="#0000d0" stroke-width="7.8"/>
<path class="ln" d="M829.58,2955.83 L832.58,2953.92 L835.58,2951.89 L838.58,2949.71 L841.59,2947.38 L844.59,2944.84 L847.59,2942.04 L850.6,2938.98 L853.6,2935.68 L856.6,2932.16 L859.6,2928.47 L862.61,2924.63 L865.61,2920.66 L868.61,2916.6 L871.62,2912.48 L874.62,2908.27 L877.62,2903.74 L880.63,2898.93 L883.63,2893.93 L886.63,2888.82 L889.63,2883.69 L892.64,2878.62 L895.64,2873.69 L898.64,2868.97 L901.65,2864.39 L904.65,2859.89 L907.65,2855.45 L910.65,2851.01 L913.66,2846.58 L916.66,2842.07 L919.66,2837.47 L922.67,2832.76 L925.67,2827.32 L928.67,2822.31 L931.68,2819.6 L934.68,2817.66" stroke="#0000d0" stroke-width="7.2"/>
<path class="ln" d="M931.68,2819.6 L934.68,2817.66 L937.68,2816.14 L940.68,2814.73 L943.69,2813.2 L946.69,2811.33" stroke="#0000d0" stroke-width="7.8"/>
<path class="ln" d="M943.69,2813.2 L946.69,2811.33 L949.69,2809.37 L952.7,2807.28 L955.7,2804.94 L958.7,2802.25 L961.71,2799.14 L964.71,2795.63 L967.71,2791.82 L970.71,2787.75 L973.72,2783.48 L976.72,2779.09 L979.72,2774.63 L982.73,2770.17 L985.73,2765.78 L988.73,2761.33 L991.73,2756.71 L994.74,2751.97 L997.74,2747.15 L1000.74,2742.27 L1003.75,2737.37 L1006.75,2732.5 L1009.75,2727.66 L1012.76,2722.85 L1015.76,2717.97 L1018.76,2713.06 L1021.76,2708.17 L1024.77,2703.29 L1027.77,2698.47 L1030.77,2693.72 L1033.78,2689.08 L1036.78,2684.57 L1039.78,2680.16 L1042.78,2675.86 L1045.79,2671.6 L1048.79,2667.4 L1051.79,2663.19 L1054.8,2658.98 L1057.8,2654.73 L1060.8,2650.42 L1063.81,2646.02 L1066.81,2641.55 L1069.81,2637.02 L1072.81,2632.48 L1075.82,2627.93 L1078.82,2623.41 L1081.82,2618.95 L1084.83,2614.57 L1087.83,2610.31 L1090.83,2606.17 L1093.83,2602.17 L1096.84,2598.29 L1099.84,2594.45 L1102.84,2590.62 L1105.85,2586.78 L1108.85,2582.89 L1111.85,2578.89 L1114.86,2574.77 L1117.86,2570.49 L1120.86,2566.12 L1123.86,2561.65 L1126.87,2557.11 L1129.87,2552.52 L1132.87,2547.88 L1135.88,2543.22 L1138.88,2538.56 L1141.88,2533.91 L1144.88,2529.2 L1147.89,2524.46 L1150.89,2519.69 L1153.89,2514.89 L1156.9,2510.09 L1159.9,2505.29 L1162.9,2500.51 L1165.91,2495.74 L1168.91,2491 L1171.91,2486.26 L1174.91,2481.53 L1177.92,2476.83 L1180.92,2472.07 L1183.92,2467.37 L1186.93,2462.95 L1189.93,2458.84 L1192.93,2455.04 L1195.94,2451.46 L1198.94,2448.01 L1201.94,2444.6 L1204.94,2441.13 L1207.95,2437.58 L1210.95,2434.01 L1213.95,2430.44 L1216.96,2426.9 L1219.96,2423.43 L1222.96,2420.03 L1225.96,2416.7 L1228.97,2413.42 L1231.97,2410.17 L1234.97,2406.94 L1237.98,2403.74 L1240.98,2400.54 L1243.98,2397.34 L1246.99,2394.14 L1249.99,2390.91 L1252.99,2387.67 L1255.99,2384.42 L1259,2381.19 L1262,2377.95" stroke="#0000d0" stroke-width="7.2"/>
<g fill="#ff6a10"><ellipse cx="282.5" cy="3071.3" rx="6.3" ry="7.5"/><ellipse cx="328.35" cy="3071.3" rx="6.3" ry="7.5"/><ellipse cx="374.2" cy="3071.3" rx="6.3" ry="7.5"/><ellipse cx="420.05" cy="3071.3" rx="6.3" ry="7.5"/><ellipse cx="465.9" cy="3071.3" rx="6.3" ry="7.5"/><ellipse cx="512.7" cy="3070.3" rx="6.3" ry="7.5"/><ellipse cx="558.3" cy="3067.1" rx="6.3" ry="7.5"/><ellipse cx="604.4" cy="3063" rx="6.3" ry="7.5"/><ellipse cx="649.5" cy="3055.3" rx="6.3" ry="7.5"/><rect x="688.5" y="3042.7" width="13" height="13" rx="5.2"/><rect x="728.3" y="3021.9" width="13" height="13" rx="5.2"/><rect x="759.4" y="2988" width="13" height="13" rx="5.2"/><rect x="797.7" y="2963.6" width="13" height="13" rx="5.2"/><rect x="837" y="2941.5" width="13" height="13" rx="5.2"/><rect x="866.5" y="2906.9" width="13" height="13" rx="5.2"/><rect x="890.6" y="2868.4" width="13" height="13" rx="5.2"/><rect x="916.4" y="2830.1" width="13" height="13" rx="5.2"/><rect x="950.9" y="2801.7" width="13" height="13" rx="5.2"/><rect x="979" y="2765" width="13" height="13" rx="5.2"/><rect x="1003.4" y="2727" width="13" height="13" rx="5.2"/><rect x="1028.1" y="2688.1" width="13" height="13" rx="5.2"/><rect x="1054.9" y="2650.5" width="13" height="13" rx="5.2"/><rect x="1081.8" y="2611.3" width="13" height="13" rx="5.2"/><rect x="1108.6" y="2576.7" width="13" height="13" rx="5.2"/><rect x="1134.2" y="2538.7" width="13" height="13" rx="5.2"/><rect x="1158.9" y="2500.2" width="13" height="13" rx="5.2"/><rect x="1184.5" y="2461.8" width="13" height="13" rx="5.2"/><rect x="1214.6" y="2427.1" width="13" height="13" rx="5.2"/><rect x="1243.8" y="2396.1" width="13" height="13" rx="5.2"/></g>
</g>
<text class="b" transform="translate(216.5,3094.3) scale(1,1.04)" font-size="59" text-anchor="end">0</text>
<text class="b" transform="translate(216.5,2853.07) scale(1,1.04)" font-size="59" text-anchor="end">50</text>
<text class="b" transform="translate(216.5,2611.83) scale(1,1.04)" font-size="59" text-anchor="end">100</text>
<text class="b" transform="translate(216.5,2370.6) scale(1,1.04)" font-size="59" text-anchor="end">150</text>
<text class="b" transform="translate(247,3163.3) scale(1,1.04)" font-size="59" text-anchor="middle">220</text>
<text class="b" transform="translate(464.15,3163.3) scale(1,1.04)" font-size="59" text-anchor="middle">240</text>
<text class="b" transform="translate(681.3,3163.3) scale(1,1.04)" font-size="59" text-anchor="middle">260</text>
<text class="b" transform="translate(898.45,3163.3) scale(1,1.04)" font-size="59" text-anchor="middle">280</text>
<text class="b" transform="translate(1115.6,3163.3) scale(1,1.04)" font-size="59" text-anchor="middle">300</text>
<text class="b" transform="translate(1332.75,3163.3) scale(1,1.04)" font-size="59" text-anchor="middle">320</text>
<text class="b" transform="translate(791,3247.2) scale(1,1.03)" font-size="59" text-anchor="middle">DOY (2012)</text>
<text class="b" transform="translate(81.3,2702.8) rotate(-90)" font-size="59" text-anchor="middle">Cumulative transpiration, mm</text>
</g>
<g id="legend">
<rect x="58.5" y="3420" width="67.8" height="8" fill="#000000"/>
<text letter-spacing="1.1" class="n" transform="translate(163.2,3441.6) scale(1,1.1)" font-size="50.3" text-anchor="start">BC0</text>
<rect x="378.9" y="3420" width="67.8" height="8" fill="#00a800"/>
<text letter-spacing="1.1" class="n" transform="translate(483.6,3441.6) scale(1,1.1)" font-size="50.3" text-anchor="start">BC1</text>
<path d="M698.7,3417.2 h4.6 q3.6,0 3.6,4.2 v5.4 q0,4.2 -3.6,4.2 h-4.6 z" fill="#ff0000"/><rect x="739.4" y="3417.2" width="16" height="13.8" rx="5.2" ry="5.2" fill="#ff0000"/>
<text letter-spacing="1.1" class="n" transform="translate(804,3441.6) scale(1,1.1)" font-size="50.3" text-anchor="start">BC2</text>
<rect x="1019.7" y="3420" width="67.8" height="8" fill="#0000d0"/>
<text letter-spacing="1.1" class="n" transform="translate(1124.4,3441.6) scale(1,1.1)" font-size="50.3" text-anchor="start">BC3</text>
<path d="M1339.5,3417.2 h4.6 q3.6,0 3.6,4.2 v5.4 q0,4.2 -3.6,4.2 h-4.6 z" fill="#ff6a10"/><rect x="1380.2" y="3417.2" width="16" height="13.8" rx="5.2" ry="5.2" fill="#ff6a10"/>
<text letter-spacing="1.1" class="n" transform="translate(1444.8,3441.6) scale(1,1.1)" font-size="50.3" text-anchor="start">BC4</text>
</g>
</svg>
</body>
</html>
